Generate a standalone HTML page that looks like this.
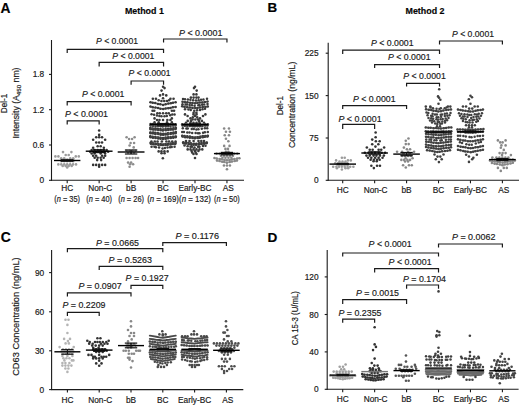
<!DOCTYPE html>
<html><head><meta charset="utf-8"><style>
html,body{margin:0;padding:0;background:#fff;}
svg{display:block;font-family:"Liberation Sans", sans-serif;}
text{stroke:#1a1a1a;stroke-width:0.18px;}
</style></head><body>
<svg width="520" height="405" viewBox="0 0 520 405">
<rect width="520" height="405" fill="#fff"/>
<text x="0.6" y="12.6" font-size="13.8" text-anchor="start" font-weight="bold" fill="#000">A</text>
<text x="267.4" y="12.3" font-size="13.4" text-anchor="start" font-weight="bold" fill="#000">B</text>
<text x="0.7" y="241.5" font-size="13.9" text-anchor="start" font-weight="bold" fill="#000">C</text>
<text x="267.4" y="241.5" font-size="13.6" text-anchor="start" font-weight="bold" fill="#000">D</text>
<text x="144.4" y="14.2" font-size="9.6" text-anchor="middle" font-weight="bold" fill="#000" textLength="39" lengthAdjust="spacingAndGlyphs">Method 1</text>
<text x="425.0" y="14.2" font-size="9.6" text-anchor="middle" font-weight="bold" fill="#000" textLength="39" lengthAdjust="spacingAndGlyphs">Method 2</text>
<line x1="51.5" y1="40.0" x2="51.5" y2="180.8" stroke="#1a1a1a" stroke-width="1.1"/>
<line x1="51.0" y1="180.3" x2="244.0" y2="180.3" stroke="#1a1a1a" stroke-width="1.1"/>
<line x1="49.0" y1="180.3" x2="51.5" y2="180.3" stroke="#1a1a1a" stroke-width="1.1"/>
<text x="44.2" y="183.3" font-size="8.3" text-anchor="end" font-weight="normal" fill="#1a1a1a">0</text>
<line x1="49.0" y1="145.0" x2="51.5" y2="145.0" stroke="#1a1a1a" stroke-width="1.1"/>
<text x="44.2" y="148.0" font-size="8.3" text-anchor="end" font-weight="normal" fill="#1a1a1a">0.6</text>
<line x1="49.0" y1="109.7" x2="51.5" y2="109.7" stroke="#1a1a1a" stroke-width="1.1"/>
<text x="44.2" y="112.7" font-size="8.3" text-anchor="end" font-weight="normal" fill="#1a1a1a">1.2</text>
<line x1="49.0" y1="74.4" x2="51.5" y2="74.4" stroke="#1a1a1a" stroke-width="1.1"/>
<text x="44.2" y="77.4" font-size="8.3" text-anchor="end" font-weight="normal" fill="#1a1a1a">1.8</text>
<line x1="67.2" y1="180.3" x2="67.2" y2="183.3" stroke="#1a1a1a" stroke-width="1.1"/>
<line x1="99.15" y1="180.3" x2="99.15" y2="183.3" stroke="#1a1a1a" stroke-width="1.1"/>
<line x1="131.1" y1="180.3" x2="131.1" y2="183.3" stroke="#1a1a1a" stroke-width="1.1"/>
<line x1="163.05" y1="180.3" x2="163.05" y2="183.3" stroke="#1a1a1a" stroke-width="1.1"/>
<line x1="195.0" y1="180.3" x2="195.0" y2="183.3" stroke="#1a1a1a" stroke-width="1.1"/>
<line x1="226.95" y1="180.3" x2="226.95" y2="183.3" stroke="#1a1a1a" stroke-width="1.1"/>
<line x1="328.2" y1="42.8" x2="328.2" y2="180.8" stroke="#1a1a1a" stroke-width="1.1"/>
<line x1="327.7" y1="180.3" x2="519.0" y2="180.3" stroke="#1a1a1a" stroke-width="1.1"/>
<line x1="325.7" y1="180.3" x2="328.2" y2="180.3" stroke="#1a1a1a" stroke-width="1.1"/>
<text x="318.6" y="183.3" font-size="8.3" text-anchor="end" font-weight="normal" fill="#1a1a1a">0</text>
<line x1="325.7" y1="138.0" x2="328.2" y2="138.0" stroke="#1a1a1a" stroke-width="1.1"/>
<text x="318.6" y="141.0" font-size="8.3" text-anchor="end" font-weight="normal" fill="#1a1a1a">75</text>
<line x1="325.7" y1="95.6" x2="328.2" y2="95.6" stroke="#1a1a1a" stroke-width="1.1"/>
<text x="318.6" y="98.6" font-size="8.3" text-anchor="end" font-weight="normal" fill="#1a1a1a">150</text>
<line x1="325.7" y1="53.2" x2="328.2" y2="53.2" stroke="#1a1a1a" stroke-width="1.1"/>
<text x="318.6" y="56.2" font-size="8.3" text-anchor="end" font-weight="normal" fill="#1a1a1a">225</text>
<line x1="342.7" y1="180.3" x2="342.7" y2="183.3" stroke="#1a1a1a" stroke-width="1.1"/>
<line x1="374.64" y1="180.3" x2="374.64" y2="183.3" stroke="#1a1a1a" stroke-width="1.1"/>
<line x1="406.58" y1="180.3" x2="406.58" y2="183.3" stroke="#1a1a1a" stroke-width="1.1"/>
<line x1="438.52" y1="180.3" x2="438.52" y2="183.3" stroke="#1a1a1a" stroke-width="1.1"/>
<line x1="470.46" y1="180.3" x2="470.46" y2="183.3" stroke="#1a1a1a" stroke-width="1.1"/>
<line x1="502.4" y1="180.3" x2="502.4" y2="183.3" stroke="#1a1a1a" stroke-width="1.1"/>
<line x1="51.6" y1="250.0" x2="51.6" y2="390.1" stroke="#1a1a1a" stroke-width="1.1"/>
<line x1="51.1" y1="389.6" x2="243.3" y2="389.6" stroke="#1a1a1a" stroke-width="1.1"/>
<line x1="49.1" y1="389.6" x2="51.6" y2="389.6" stroke="#1a1a1a" stroke-width="1.1"/>
<text x="44.2" y="392.6" font-size="8.3" text-anchor="end" font-weight="normal" fill="#1a1a1a">0</text>
<line x1="49.1" y1="350.8" x2="51.6" y2="350.8" stroke="#1a1a1a" stroke-width="1.1"/>
<text x="44.2" y="353.8" font-size="8.3" text-anchor="end" font-weight="normal" fill="#1a1a1a">30</text>
<line x1="49.1" y1="311.8" x2="51.6" y2="311.8" stroke="#1a1a1a" stroke-width="1.1"/>
<text x="44.2" y="314.8" font-size="8.3" text-anchor="end" font-weight="normal" fill="#1a1a1a">60</text>
<line x1="49.1" y1="272.6" x2="51.6" y2="272.6" stroke="#1a1a1a" stroke-width="1.1"/>
<text x="44.2" y="275.6" font-size="8.3" text-anchor="end" font-weight="normal" fill="#1a1a1a">90</text>
<line x1="67.4" y1="389.6" x2="67.4" y2="392.6" stroke="#1a1a1a" stroke-width="1.1"/>
<line x1="99.2" y1="389.6" x2="99.2" y2="392.6" stroke="#1a1a1a" stroke-width="1.1"/>
<line x1="131.0" y1="389.6" x2="131.0" y2="392.6" stroke="#1a1a1a" stroke-width="1.1"/>
<line x1="162.8" y1="389.6" x2="162.8" y2="392.6" stroke="#1a1a1a" stroke-width="1.1"/>
<line x1="194.60000000000002" y1="389.6" x2="194.60000000000002" y2="392.6" stroke="#1a1a1a" stroke-width="1.1"/>
<line x1="226.4" y1="389.6" x2="226.4" y2="392.6" stroke="#1a1a1a" stroke-width="1.1"/>
<line x1="327.2" y1="250.0" x2="327.2" y2="389.8" stroke="#1a1a1a" stroke-width="1.1"/>
<line x1="326.7" y1="389.3" x2="518.6" y2="389.3" stroke="#1a1a1a" stroke-width="1.1"/>
<line x1="324.7" y1="389.3" x2="327.2" y2="389.3" stroke="#1a1a1a" stroke-width="1.1"/>
<text x="318.6" y="392.3" font-size="8.3" text-anchor="end" font-weight="normal" fill="#1a1a1a">0</text>
<line x1="324.7" y1="351.9" x2="327.2" y2="351.9" stroke="#1a1a1a" stroke-width="1.1"/>
<text x="318.6" y="354.9" font-size="8.3" text-anchor="end" font-weight="normal" fill="#1a1a1a">40</text>
<line x1="324.7" y1="314.5" x2="327.2" y2="314.5" stroke="#1a1a1a" stroke-width="1.1"/>
<text x="318.6" y="317.5" font-size="8.3" text-anchor="end" font-weight="normal" fill="#1a1a1a">80</text>
<line x1="324.7" y1="276.9" x2="327.2" y2="276.9" stroke="#1a1a1a" stroke-width="1.1"/>
<text x="318.6" y="279.9" font-size="8.3" text-anchor="end" font-weight="normal" fill="#1a1a1a">120</text>
<line x1="342.7" y1="389.3" x2="342.7" y2="392.3" stroke="#1a1a1a" stroke-width="1.1"/>
<line x1="374.64" y1="389.3" x2="374.64" y2="392.3" stroke="#1a1a1a" stroke-width="1.1"/>
<line x1="406.58" y1="389.3" x2="406.58" y2="392.3" stroke="#1a1a1a" stroke-width="1.1"/>
<line x1="438.52" y1="389.3" x2="438.52" y2="392.3" stroke="#1a1a1a" stroke-width="1.1"/>
<line x1="470.46" y1="389.3" x2="470.46" y2="392.3" stroke="#1a1a1a" stroke-width="1.1"/>
<line x1="502.4" y1="389.3" x2="502.4" y2="392.3" stroke="#1a1a1a" stroke-width="1.1"/>
<text x="67.2" y="190.9" font-size="8.3" text-anchor="middle" font-weight="normal" fill="#1a1a1a">HC</text>
<text x="342.7" y="193.2" font-size="8.3" text-anchor="middle" font-weight="normal" fill="#1a1a1a">HC</text>
<text x="67.4" y="402.8" font-size="8.3" text-anchor="middle" font-weight="normal" fill="#1a1a1a">HC</text>
<text x="342.7" y="402.3" font-size="8.3" text-anchor="middle" font-weight="normal" fill="#1a1a1a">HC</text>
<text x="100.15" y="190.9" font-size="8.3" text-anchor="middle" font-weight="normal" fill="#1a1a1a">Non-C</text>
<text x="375.64" y="193.2" font-size="8.3" text-anchor="middle" font-weight="normal" fill="#1a1a1a">Non-C</text>
<text x="100.2" y="402.8" font-size="8.3" text-anchor="middle" font-weight="normal" fill="#1a1a1a">Non-C</text>
<text x="375.64" y="402.3" font-size="8.3" text-anchor="middle" font-weight="normal" fill="#1a1a1a">Non-C</text>
<text x="131.1" y="190.9" font-size="8.3" text-anchor="middle" font-weight="normal" fill="#1a1a1a">bB</text>
<text x="406.58" y="193.2" font-size="8.3" text-anchor="middle" font-weight="normal" fill="#1a1a1a">bB</text>
<text x="131.0" y="402.8" font-size="8.3" text-anchor="middle" font-weight="normal" fill="#1a1a1a">bB</text>
<text x="406.58" y="402.3" font-size="8.3" text-anchor="middle" font-weight="normal" fill="#1a1a1a">bB</text>
<text x="163.05" y="190.9" font-size="8.3" text-anchor="middle" font-weight="normal" fill="#1a1a1a">BC</text>
<text x="438.52" y="193.2" font-size="8.3" text-anchor="middle" font-weight="normal" fill="#1a1a1a">BC</text>
<text x="162.8" y="402.8" font-size="8.3" text-anchor="middle" font-weight="normal" fill="#1a1a1a">BC</text>
<text x="438.52" y="402.3" font-size="8.3" text-anchor="middle" font-weight="normal" fill="#1a1a1a">BC</text>
<text x="195.0" y="190.9" font-size="8.3" text-anchor="middle" font-weight="normal" fill="#1a1a1a">Early-BC</text>
<text x="470.46" y="193.2" font-size="8.3" text-anchor="middle" font-weight="normal" fill="#1a1a1a">Early-BC</text>
<text x="194.60000000000002" y="402.8" font-size="8.3" text-anchor="middle" font-weight="normal" fill="#1a1a1a">Early-BC</text>
<text x="470.46" y="402.3" font-size="8.3" text-anchor="middle" font-weight="normal" fill="#1a1a1a">Early-BC</text>
<text x="228.35" y="190.9" font-size="8.3" text-anchor="middle" font-weight="normal" fill="#1a1a1a">AS</text>
<text x="503.79999999999995" y="193.2" font-size="8.3" text-anchor="middle" font-weight="normal" fill="#1a1a1a">AS</text>
<text x="227.8" y="402.8" font-size="8.3" text-anchor="middle" font-weight="normal" fill="#1a1a1a">AS</text>
<text x="503.79999999999995" y="402.3" font-size="8.3" text-anchor="middle" font-weight="normal" fill="#1a1a1a">AS</text>
<text x="67.2" y="202.1" font-size="8.4" text-anchor="middle" fill="#1a1a1a" textLength="25.8" lengthAdjust="spacingAndGlyphs">(<tspan font-style="italic">n</tspan> = 35)</text>
<text x="99.15" y="202.1" font-size="8.4" text-anchor="middle" fill="#1a1a1a" textLength="25.8" lengthAdjust="spacingAndGlyphs">(<tspan font-style="italic">n</tspan> = 40)</text>
<text x="131.1" y="202.1" font-size="8.4" text-anchor="middle" fill="#1a1a1a" textLength="25.8" lengthAdjust="spacingAndGlyphs">(<tspan font-style="italic">n</tspan> = 26)</text>
<text x="163.05" y="202.1" font-size="8.4" text-anchor="middle" fill="#1a1a1a" textLength="31.8" lengthAdjust="spacingAndGlyphs">(<tspan font-style="italic">n</tspan> = 169)</text>
<text x="195.0" y="202.1" font-size="8.4" text-anchor="middle" fill="#1a1a1a" textLength="31.8" lengthAdjust="spacingAndGlyphs">(<tspan font-style="italic">n</tspan> = 132)</text>
<text x="226.95" y="202.1" font-size="8.4" text-anchor="middle" fill="#1a1a1a" textLength="25.8" lengthAdjust="spacingAndGlyphs">(<tspan font-style="italic">n</tspan> = 50)</text>
<text x="7.4" y="103.4" font-size="8.8" text-anchor="middle" font-weight="normal" fill="#1a1a1a" textLength="19.5" lengthAdjust="spacingAndGlyphs" transform="rotate(-90 7.4 103.4)">Del-1</text>
<text x="19.0" y="103.0" font-size="8.7" text-anchor="middle" font-weight="normal" fill="#1a1a1a" textLength="71" lengthAdjust="spacingAndGlyphs" transform="rotate(-90 19.0 103.0)">Intensity (A<tspan font-size="6.2" dy="1.6">450</tspan><tspan dy="-1.6"> nm)</tspan></text>
<text x="283.3" y="105.6" font-size="8.6" text-anchor="middle" font-weight="normal" fill="#1a1a1a" textLength="19.4" lengthAdjust="spacingAndGlyphs" transform="rotate(-90 283.3 105.6)">Del-1</text>
<text x="295.2" y="104.9" font-size="8.6" text-anchor="middle" font-weight="normal" fill="#1a1a1a" textLength="86.4" lengthAdjust="spacingAndGlyphs" transform="rotate(-90 295.2 104.9)">Concentration (ng/mL)</text>
<text x="18.8" y="316.6" font-size="8.6" text-anchor="middle" font-weight="normal" fill="#1a1a1a" textLength="118.5" lengthAdjust="spacingAndGlyphs" transform="rotate(-90 18.8 316.6)">CD63 Concentration (ng/mL)</text>
<text x="297.6" y="318.2" font-size="8.6" text-anchor="middle" font-weight="normal" fill="#1a1a1a" textLength="54.3" lengthAdjust="spacingAndGlyphs" transform="rotate(-90 297.6 318.2)">CA 15-3 (U/mL)</text>
<path d="M163.55 42.6 V39.0 H226.95 V42.6" stroke="#1a1a1a" stroke-width="1.2" fill="none"/>
<text x="200.7" y="35.5" font-size="9.4" text-anchor="middle" fill="#1a1a1a" textLength="43.4" lengthAdjust="spacingAndGlyphs"><tspan font-style="italic">P</tspan> &lt; 0.0001</text>
<path d="M67.20 53.0 V49.3 H163.55 V53.0" stroke="#1a1a1a" stroke-width="1.2" fill="none"/>
<text x="117.0" y="43.7" font-size="9.4" text-anchor="middle" fill="#1a1a1a" textLength="42.0" lengthAdjust="spacingAndGlyphs"><tspan font-style="italic">P</tspan> &lt; 0.0001</text>
<path d="M99.15 66.5 V62.4 H163.55 V66.5" stroke="#1a1a1a" stroke-width="1.2" fill="none"/>
<text x="133.3" y="58.7" font-size="9.4" text-anchor="middle" fill="#1a1a1a" textLength="42.0" lengthAdjust="spacingAndGlyphs"><tspan font-style="italic">P</tspan> &lt; 0.0001</text>
<path d="M131.10 84.8 V81.0 H163.55 V84.8" stroke="#1a1a1a" stroke-width="1.2" fill="none"/>
<text x="149.6" y="76.3" font-size="9.4" text-anchor="middle" fill="#1a1a1a" textLength="42.0" lengthAdjust="spacingAndGlyphs"><tspan font-style="italic">P</tspan> &lt; 0.0001</text>
<path d="M67.20 105.6 V101.6 H131.10 V105.6" stroke="#1a1a1a" stroke-width="1.2" fill="none"/>
<text x="103.2" y="97.3" font-size="9.4" text-anchor="middle" fill="#1a1a1a" textLength="42.4" lengthAdjust="spacingAndGlyphs"><tspan font-style="italic">P</tspan> &lt; 0.0001</text>
<path d="M67.20 124.4 V120.8 H99.15 V124.4" stroke="#1a1a1a" stroke-width="1.2" fill="none"/>
<text x="86.5" y="116.5" font-size="9.4" text-anchor="middle" fill="#1a1a1a" textLength="43.0" lengthAdjust="spacingAndGlyphs"><tspan font-style="italic">P</tspan> &lt; 0.0001</text>
<path d="M439.52 44.6 V41.0 H502.40 V44.6" stroke="#1a1a1a" stroke-width="1.2" fill="none"/>
<text x="473.0" y="36.9" font-size="9.4" text-anchor="middle" fill="#1a1a1a" textLength="42.0" lengthAdjust="spacingAndGlyphs"><tspan font-style="italic">P</tspan> &lt; 0.0001</text>
<path d="M342.70 54.0 V50.2 H439.52 V54.0" stroke="#1a1a1a" stroke-width="1.2" fill="none"/>
<text x="392.3" y="45.5" font-size="9.4" text-anchor="middle" fill="#1a1a1a" textLength="42.6" lengthAdjust="spacingAndGlyphs"><tspan font-style="italic">P</tspan> &lt; 0.0001</text>
<path d="M374.64 68.0 V64.6 H439.52 V68.0" stroke="#1a1a1a" stroke-width="1.2" fill="none"/>
<text x="409.3" y="60.1" font-size="9.4" text-anchor="middle" fill="#1a1a1a" textLength="42.6" lengthAdjust="spacingAndGlyphs"><tspan font-style="italic">P</tspan> &lt; 0.0001</text>
<path d="M406.58 86.4 V83.4 H439.52 V86.4" stroke="#1a1a1a" stroke-width="1.2" fill="none"/>
<text x="424.5" y="78.5" font-size="9.4" text-anchor="middle" fill="#1a1a1a" textLength="42.6" lengthAdjust="spacingAndGlyphs"><tspan font-style="italic">P</tspan> &lt; 0.0001</text>
<path d="M342.70 109.0 V105.6 H406.58 V109.0" stroke="#1a1a1a" stroke-width="1.2" fill="none"/>
<text x="374.3" y="102.1" font-size="9.4" text-anchor="middle" fill="#1a1a1a" textLength="42.6" lengthAdjust="spacingAndGlyphs"><tspan font-style="italic">P</tspan> &lt; 0.0001</text>
<path d="M342.70 129.0 V124.4 H374.64 V129.0" stroke="#1a1a1a" stroke-width="1.2" fill="none"/>
<text x="360.0" y="121.5" font-size="9.4" text-anchor="middle" fill="#1a1a1a" textLength="43.2" lengthAdjust="spacingAndGlyphs"><tspan font-style="italic">P</tspan> &lt; 0.0001</text>
<path d="M162.80 246.0 V242.6 H226.40 V246.0" stroke="#1a1a1a" stroke-width="1.2" fill="none"/>
<text x="197.2" y="238.5" font-size="9.4" text-anchor="middle" fill="#1a1a1a" textLength="43.6" lengthAdjust="spacingAndGlyphs"><tspan font-style="italic">P</tspan> = 0.1176</text>
<path d="M67.40 252.2 V248.6 H162.80 V252.2" stroke="#1a1a1a" stroke-width="1.2" fill="none"/>
<text x="117.5" y="245.9" font-size="9.4" text-anchor="middle" fill="#1a1a1a" textLength="43.0" lengthAdjust="spacingAndGlyphs"><tspan font-style="italic">P</tspan> = 0.0665</text>
<path d="M99.20 270.0 V266.3 H162.80 V270.0" stroke="#1a1a1a" stroke-width="1.2" fill="none"/>
<text x="130.3" y="262.5" font-size="9.4" text-anchor="middle" fill="#1a1a1a" textLength="43.4" lengthAdjust="spacingAndGlyphs"><tspan font-style="italic">P</tspan> = 0.5263</text>
<path d="M131.00 289.0 V285.4 H162.80 V289.0" stroke="#1a1a1a" stroke-width="1.2" fill="none"/>
<text x="147.1" y="280.5" font-size="9.4" text-anchor="middle" fill="#1a1a1a" textLength="43.0" lengthAdjust="spacingAndGlyphs"><tspan font-style="italic">P</tspan> = 0.1927</text>
<path d="M67.40 296.5 V292.9 H131.00 V296.5" stroke="#1a1a1a" stroke-width="1.2" fill="none"/>
<text x="100.0" y="288.5" font-size="9.4" text-anchor="middle" fill="#1a1a1a" textLength="43.2" lengthAdjust="spacingAndGlyphs"><tspan font-style="italic">P</tspan> = 0.0907</text>
<path d="M67.40 316.0 V312.4 H99.20 V316.0" stroke="#1a1a1a" stroke-width="1.2" fill="none"/>
<text x="84.0" y="307.9" font-size="9.4" text-anchor="middle" fill="#1a1a1a" textLength="43.0" lengthAdjust="spacingAndGlyphs"><tspan font-style="italic">P</tspan> = 0.2209</text>
<path d="M438.52 247.6 V244.0 H502.40 V247.6" stroke="#1a1a1a" stroke-width="1.2" fill="none"/>
<text x="473.7" y="239.5" font-size="9.4" text-anchor="middle" fill="#1a1a1a" textLength="43.4" lengthAdjust="spacingAndGlyphs"><tspan font-style="italic">P</tspan> = 0.0062</text>
<path d="M342.70 256.6 V253.0 H438.52 V256.6" stroke="#1a1a1a" stroke-width="1.2" fill="none"/>
<text x="390.1" y="247.1" font-size="9.4" text-anchor="middle" fill="#1a1a1a" textLength="43.0" lengthAdjust="spacingAndGlyphs"><tspan font-style="italic">P</tspan> &lt; 0.0001</text>
<path d="M374.64 272.4 V268.6 H438.52 V272.4" stroke="#1a1a1a" stroke-width="1.2" fill="none"/>
<text x="410.1" y="265.1" font-size="9.4" text-anchor="middle" fill="#1a1a1a" textLength="43.0" lengthAdjust="spacingAndGlyphs"><tspan font-style="italic">P</tspan> &lt; 0.0001</text>
<path d="M406.58 288.8 V285.0 H438.52 V288.8" stroke="#1a1a1a" stroke-width="1.2" fill="none"/>
<text x="424.5" y="281.5" font-size="9.4" text-anchor="middle" fill="#1a1a1a" textLength="43.0" lengthAdjust="spacingAndGlyphs"><tspan font-style="italic">P</tspan> = 0.1704</text>
<path d="M342.70 303.9 V299.7 H406.58 V303.9" stroke="#1a1a1a" stroke-width="1.2" fill="none"/>
<text x="377.5" y="295.8" font-size="9.4" text-anchor="middle" fill="#1a1a1a" textLength="43.0" lengthAdjust="spacingAndGlyphs"><tspan font-style="italic">P</tspan> = 0.0015</text>
<path d="M342.70 322.8 V319.1 H374.64 V322.8" stroke="#1a1a1a" stroke-width="1.2" fill="none"/>
<text x="360.0" y="315.7" font-size="9.4" text-anchor="middle" fill="#1a1a1a" textLength="43.0" lengthAdjust="spacingAndGlyphs"><tspan font-style="italic">P</tspan> = 0.2355</text>
<defs><filter id="sf" x="-5%" y="-5%" width="110%" height="110%"><feGaussianBlur stdDeviation="0.4"/></filter></defs>
<g filter="url(#sf)">
<circle cx="63.00" cy="152.10" r="1.3" fill="#9c9c9c"/>
<circle cx="71.40" cy="152.10" r="1.3" fill="#9c9c9c"/>
<circle cx="65.70" cy="155.00" r="1.3" fill="#9c9c9c"/>
<circle cx="68.70" cy="155.00" r="1.3" fill="#9c9c9c"/>
<circle cx="55.40" cy="156.40" r="1.3" fill="#9c9c9c"/>
<circle cx="58.40" cy="156.40" r="1.3" fill="#9c9c9c"/>
<circle cx="75.80" cy="156.40" r="1.3" fill="#9c9c9c"/>
<circle cx="78.80" cy="156.40" r="1.3" fill="#9c9c9c"/>
<circle cx="61.20" cy="158.20" r="1.3" fill="#9c9c9c"/>
<circle cx="64.20" cy="158.20" r="1.3" fill="#9c9c9c"/>
<circle cx="70.20" cy="158.20" r="1.3" fill="#9c9c9c"/>
<circle cx="73.20" cy="158.20" r="1.3" fill="#9c9c9c"/>
<circle cx="61.30" cy="159.60" r="1.3" fill="#9c9c9c"/>
<circle cx="64.25" cy="159.60" r="1.3" fill="#9c9c9c"/>
<circle cx="67.20" cy="159.60" r="1.3" fill="#9c9c9c"/>
<circle cx="70.15" cy="159.60" r="1.3" fill="#9c9c9c"/>
<circle cx="73.10" cy="159.60" r="1.3" fill="#9c9c9c"/>
<circle cx="61.30" cy="161.20" r="1.3" fill="#9c9c9c"/>
<circle cx="64.25" cy="161.20" r="1.3" fill="#9c9c9c"/>
<circle cx="67.20" cy="161.20" r="1.3" fill="#9c9c9c"/>
<circle cx="70.15" cy="161.20" r="1.3" fill="#9c9c9c"/>
<circle cx="73.10" cy="161.20" r="1.3" fill="#9c9c9c"/>
<circle cx="58.35" cy="164.40" r="1.3" fill="#9c9c9c"/>
<circle cx="61.30" cy="164.40" r="1.3" fill="#9c9c9c"/>
<circle cx="64.25" cy="164.40" r="1.3" fill="#9c9c9c"/>
<circle cx="67.20" cy="164.40" r="1.3" fill="#9c9c9c"/>
<circle cx="70.15" cy="164.40" r="1.3" fill="#9c9c9c"/>
<circle cx="73.10" cy="164.40" r="1.3" fill="#9c9c9c"/>
<circle cx="76.05" cy="164.40" r="1.3" fill="#9c9c9c"/>
<circle cx="62.70" cy="165.90" r="1.3" fill="#9c9c9c"/>
<circle cx="65.70" cy="165.90" r="1.3" fill="#9c9c9c"/>
<circle cx="68.70" cy="165.90" r="1.3" fill="#9c9c9c"/>
<circle cx="71.70" cy="165.90" r="1.3" fill="#9c9c9c"/>
<circle cx="67.20" cy="167.40" r="1.3" fill="#9c9c9c"/>
<circle cx="99.15" cy="130.50" r="1.3" fill="#333333"/>
<circle cx="99.15" cy="134.90" r="1.3" fill="#333333"/>
<circle cx="96.25" cy="137.20" r="1.3" fill="#333333"/>
<circle cx="99.15" cy="137.20" r="1.3" fill="#333333"/>
<circle cx="102.05" cy="137.20" r="1.3" fill="#333333"/>
<circle cx="93.15" cy="139.80" r="1.3" fill="#333333"/>
<circle cx="105.15" cy="139.80" r="1.3" fill="#333333"/>
<circle cx="96.25" cy="142.50" r="1.3" fill="#333333"/>
<circle cx="99.15" cy="142.50" r="1.3" fill="#333333"/>
<circle cx="102.05" cy="142.50" r="1.3" fill="#333333"/>
<circle cx="97.65" cy="146.20" r="1.3" fill="#333333"/>
<circle cx="100.65" cy="146.20" r="1.3" fill="#333333"/>
<circle cx="93.15" cy="147.80" r="1.3" fill="#333333"/>
<circle cx="103.85" cy="147.80" r="1.3" fill="#333333"/>
<circle cx="91.65" cy="150.00" r="1.3" fill="#333333"/>
<circle cx="94.65" cy="150.00" r="1.3" fill="#333333"/>
<circle cx="97.65" cy="150.00" r="1.3" fill="#333333"/>
<circle cx="100.65" cy="150.00" r="1.3" fill="#333333"/>
<circle cx="103.65" cy="150.00" r="1.3" fill="#333333"/>
<circle cx="106.65" cy="150.00" r="1.3" fill="#333333"/>
<circle cx="90.15" cy="151.80" r="1.3" fill="#333333"/>
<circle cx="93.15" cy="151.80" r="1.3" fill="#333333"/>
<circle cx="96.15" cy="151.80" r="1.3" fill="#333333"/>
<circle cx="99.15" cy="151.80" r="1.3" fill="#333333"/>
<circle cx="102.15" cy="151.80" r="1.3" fill="#333333"/>
<circle cx="105.15" cy="151.80" r="1.3" fill="#333333"/>
<circle cx="108.15" cy="151.80" r="1.3" fill="#333333"/>
<circle cx="91.65" cy="153.50" r="1.3" fill="#333333"/>
<circle cx="94.65" cy="153.50" r="1.3" fill="#333333"/>
<circle cx="100.65" cy="153.50" r="1.3" fill="#333333"/>
<circle cx="105.15" cy="153.50" r="1.3" fill="#333333"/>
<circle cx="93.15" cy="155.80" r="1.3" fill="#333333"/>
<circle cx="96.15" cy="155.80" r="1.3" fill="#333333"/>
<circle cx="102.15" cy="155.80" r="1.3" fill="#333333"/>
<circle cx="105.15" cy="155.80" r="1.3" fill="#333333"/>
<circle cx="94.65" cy="157.80" r="1.3" fill="#333333"/>
<circle cx="97.65" cy="157.80" r="1.3" fill="#333333"/>
<circle cx="100.65" cy="157.80" r="1.3" fill="#333333"/>
<circle cx="103.65" cy="157.80" r="1.3" fill="#333333"/>
<circle cx="97.15" cy="160.10" r="1.3" fill="#333333"/>
<circle cx="101.15" cy="160.10" r="1.3" fill="#333333"/>
<circle cx="93.15" cy="164.90" r="1.3" fill="#333333"/>
<circle cx="96.15" cy="164.90" r="1.3" fill="#333333"/>
<circle cx="99.15" cy="164.90" r="1.3" fill="#333333"/>
<circle cx="102.15" cy="164.90" r="1.3" fill="#333333"/>
<circle cx="105.15" cy="164.90" r="1.3" fill="#333333"/>
<circle cx="99.15" cy="166.70" r="1.3" fill="#333333"/>
<circle cx="126.60" cy="137.30" r="1.3" fill="#8c8c8c"/>
<circle cx="134.60" cy="137.30" r="1.3" fill="#8c8c8c"/>
<circle cx="129.10" cy="139.00" r="1.3" fill="#8c8c8c"/>
<circle cx="132.10" cy="139.00" r="1.3" fill="#8c8c8c"/>
<circle cx="130.60" cy="143.00" r="1.3" fill="#8c8c8c"/>
<circle cx="134.10" cy="143.00" r="1.3" fill="#8c8c8c"/>
<circle cx="129.60" cy="145.50" r="1.3" fill="#8c8c8c"/>
<circle cx="133.70" cy="147.40" r="1.3" fill="#8c8c8c"/>
<circle cx="126.60" cy="150.80" r="1.3" fill="#8c8c8c"/>
<circle cx="129.60" cy="150.80" r="1.3" fill="#8c8c8c"/>
<circle cx="132.60" cy="150.80" r="1.3" fill="#8c8c8c"/>
<circle cx="135.60" cy="150.80" r="1.3" fill="#8c8c8c"/>
<circle cx="128.10" cy="152.80" r="1.3" fill="#8c8c8c"/>
<circle cx="131.10" cy="152.80" r="1.3" fill="#8c8c8c"/>
<circle cx="134.10" cy="152.80" r="1.3" fill="#8c8c8c"/>
<circle cx="126.60" cy="158.00" r="1.3" fill="#8c8c8c"/>
<circle cx="129.60" cy="158.00" r="1.3" fill="#8c8c8c"/>
<circle cx="132.60" cy="158.00" r="1.3" fill="#8c8c8c"/>
<circle cx="135.60" cy="158.00" r="1.3" fill="#8c8c8c"/>
<circle cx="138.10" cy="158.00" r="1.3" fill="#8c8c8c"/>
<circle cx="128.10" cy="162.60" r="1.3" fill="#8c8c8c"/>
<circle cx="131.10" cy="162.60" r="1.3" fill="#8c8c8c"/>
<circle cx="130.10" cy="164.20" r="1.3" fill="#8c8c8c"/>
<circle cx="133.10" cy="164.20" r="1.3" fill="#8c8c8c"/>
<circle cx="129.60" cy="166.80" r="1.3" fill="#8c8c8c"/>
<circle cx="163.05" cy="86.80" r="1.3" fill="#3a3a3a"/>
<circle cx="164.55" cy="88.10" r="1.3" fill="#3a3a3a"/>
<circle cx="161.55" cy="90.60" r="1.3" fill="#3a3a3a"/>
<circle cx="163.05" cy="94.40" r="1.3" fill="#3a3a3a"/>
<circle cx="160.05" cy="95.40" r="1.3" fill="#3a3a3a"/>
<circle cx="166.25" cy="95.40" r="1.3" fill="#3a3a3a"/>
<circle cx="163.05" cy="98.20" r="1.3" fill="#3a3a3a"/>
<circle cx="152.85" cy="98.70" r="1.3" fill="#3a3a3a"/>
<circle cx="155.95" cy="98.70" r="1.3" fill="#3a3a3a"/>
<circle cx="170.45" cy="98.70" r="1.3" fill="#3a3a3a"/>
<circle cx="173.55" cy="98.70" r="1.3" fill="#3a3a3a"/>
<circle cx="158.65" cy="100.20" r="1.3" fill="#3a3a3a"/>
<circle cx="169.05" cy="100.20" r="1.3" fill="#3a3a3a"/>
<circle cx="161.45" cy="101.00" r="1.3" fill="#3a3a3a"/>
<circle cx="164.25" cy="101.00" r="1.3" fill="#3a3a3a"/>
<circle cx="166.95" cy="101.00" r="1.3" fill="#3a3a3a"/>
<polyline points="150.45,102.30 153.60,102.90 156.75,103.50 159.90,104.30 163.05,104.77 166.20,104.26 169.35,103.56 172.50,102.82 175.65,102.30" fill="none" stroke="#757575" stroke-width="1.6" stroke-linecap="round" stroke-linejoin="round"/>
<circle cx="150.45" cy="102.30" r="1.25" fill="#3a3a3a"/>
<circle cx="152.69" cy="102.74" r="1.25" fill="#3a3a3a"/>
<circle cx="155.23" cy="103.12" r="1.25" fill="#3a3a3a"/>
<circle cx="157.96" cy="103.98" r="1.25" fill="#3a3a3a"/>
<circle cx="160.30" cy="104.22" r="1.25" fill="#3a3a3a"/>
<circle cx="163.13" cy="105.06" r="1.25" fill="#3a3a3a"/>
<circle cx="165.62" cy="104.33" r="1.25" fill="#3a3a3a"/>
<circle cx="168.38" cy="103.62" r="1.25" fill="#3a3a3a"/>
<circle cx="170.83" cy="103.21" r="1.25" fill="#3a3a3a"/>
<circle cx="172.92" cy="102.71" r="1.25" fill="#3a3a3a"/>
<circle cx="175.65" cy="102.22" r="1.25" fill="#3a3a3a"/>
<polyline points="150.45,106.80 153.60,107.44 156.75,107.80 159.90,108.47 163.05,109.04 166.20,108.41 169.35,107.91 172.50,107.22 175.65,106.80" fill="none" stroke="#757575" stroke-width="1.6" stroke-linecap="round" stroke-linejoin="round"/>
<circle cx="150.45" cy="106.62" r="1.25" fill="#3a3a3a"/>
<circle cx="152.79" cy="107.28" r="1.25" fill="#3a3a3a"/>
<circle cx="155.45" cy="107.60" r="1.25" fill="#3a3a3a"/>
<circle cx="158.06" cy="108.11" r="1.25" fill="#3a3a3a"/>
<circle cx="160.41" cy="108.66" r="1.25" fill="#3a3a3a"/>
<circle cx="163.17" cy="108.88" r="1.25" fill="#3a3a3a"/>
<circle cx="165.61" cy="108.56" r="1.25" fill="#3a3a3a"/>
<circle cx="168.32" cy="108.17" r="1.25" fill="#3a3a3a"/>
<circle cx="170.48" cy="107.89" r="1.25" fill="#3a3a3a"/>
<circle cx="172.90" cy="107.25" r="1.25" fill="#3a3a3a"/>
<circle cx="175.65" cy="106.90" r="1.25" fill="#3a3a3a"/>
<circle cx="152.55" cy="110.80" r="1.3" fill="#3a3a3a"/>
<circle cx="154.25" cy="110.80" r="1.3" fill="#3a3a3a"/>
<circle cx="171.85" cy="110.80" r="1.3" fill="#3a3a3a"/>
<circle cx="174.05" cy="110.80" r="1.3" fill="#3a3a3a"/>
<circle cx="157.35" cy="113.30" r="1.3" fill="#3a3a3a"/>
<circle cx="159.75" cy="113.30" r="1.3" fill="#3a3a3a"/>
<circle cx="163.05" cy="113.30" r="1.3" fill="#3a3a3a"/>
<circle cx="166.25" cy="113.30" r="1.3" fill="#3a3a3a"/>
<circle cx="168.75" cy="113.30" r="1.3" fill="#3a3a3a"/>
<circle cx="151.55" cy="114.23" r="1.25" fill="#3a3a3a"/>
<circle cx="154.09" cy="114.63" r="1.25" fill="#3a3a3a"/>
<circle cx="156.96" cy="115.52" r="1.25" fill="#3a3a3a"/>
<circle cx="159.35" cy="116.01" r="1.25" fill="#3a3a3a"/>
<circle cx="161.44" cy="116.30" r="1.25" fill="#3a3a3a"/>
<circle cx="164.50" cy="116.28" r="1.25" fill="#3a3a3a"/>
<circle cx="166.80" cy="115.98" r="1.25" fill="#3a3a3a"/>
<circle cx="170.23" cy="115.18" r="1.25" fill="#3a3a3a"/>
<circle cx="172.29" cy="114.59" r="1.25" fill="#3a3a3a"/>
<circle cx="174.55" cy="114.50" r="1.25" fill="#3a3a3a"/>
<circle cx="154.55" cy="118.40" r="1.3" fill="#3a3a3a"/>
<circle cx="171.85" cy="118.40" r="1.3" fill="#3a3a3a"/>
<circle cx="157.05" cy="120.00" r="1.3" fill="#3a3a3a"/>
<circle cx="159.45" cy="120.00" r="1.3" fill="#3a3a3a"/>
<circle cx="163.05" cy="120.00" r="1.3" fill="#3a3a3a"/>
<circle cx="167.35" cy="120.00" r="1.3" fill="#3a3a3a"/>
<circle cx="170.45" cy="120.00" r="1.3" fill="#3a3a3a"/>
<circle cx="154.55" cy="122.40" r="1.3" fill="#3a3a3a"/>
<circle cx="158.65" cy="122.40" r="1.3" fill="#3a3a3a"/>
<circle cx="167.05" cy="122.40" r="1.3" fill="#3a3a3a"/>
<circle cx="171.85" cy="122.40" r="1.3" fill="#3a3a3a"/>
<polyline points="150.55,124.00 153.68,124.19 156.80,124.45 159.93,124.55 163.05,124.54 166.18,124.42 169.30,124.35 172.43,124.01 175.55,124.00" fill="none" stroke="#757575" stroke-width="1.6" stroke-linecap="round" stroke-linejoin="round"/>
<circle cx="150.55" cy="123.98" r="1.25" fill="#3a3a3a"/>
<circle cx="152.85" cy="123.96" r="1.25" fill="#3a3a3a"/>
<circle cx="155.29" cy="124.33" r="1.25" fill="#3a3a3a"/>
<circle cx="157.83" cy="124.25" r="1.25" fill="#3a3a3a"/>
<circle cx="160.48" cy="124.63" r="1.25" fill="#3a3a3a"/>
<circle cx="162.80" cy="124.57" r="1.25" fill="#3a3a3a"/>
<circle cx="165.58" cy="124.63" r="1.25" fill="#3a3a3a"/>
<circle cx="168.24" cy="124.50" r="1.25" fill="#3a3a3a"/>
<circle cx="170.42" cy="124.21" r="1.25" fill="#3a3a3a"/>
<circle cx="172.97" cy="124.28" r="1.25" fill="#3a3a3a"/>
<circle cx="175.55" cy="124.18" r="1.25" fill="#3a3a3a"/>
<polyline points="150.55,125.60 153.68,125.70 156.80,125.90 159.93,126.12 163.05,126.32 166.18,126.20 169.30,126.03 172.43,125.73 175.55,125.60" fill="none" stroke="#757575" stroke-width="1.6" stroke-linecap="round" stroke-linejoin="round"/>
<circle cx="150.55" cy="125.40" r="1.25" fill="#3a3a3a"/>
<circle cx="153.00" cy="125.70" r="1.25" fill="#3a3a3a"/>
<circle cx="155.59" cy="126.10" r="1.25" fill="#3a3a3a"/>
<circle cx="158.16" cy="126.09" r="1.25" fill="#3a3a3a"/>
<circle cx="160.62" cy="126.31" r="1.25" fill="#3a3a3a"/>
<circle cx="162.78" cy="126.54" r="1.25" fill="#3a3a3a"/>
<circle cx="165.72" cy="126.38" r="1.25" fill="#3a3a3a"/>
<circle cx="168.23" cy="126.03" r="1.25" fill="#3a3a3a"/>
<circle cx="170.49" cy="125.77" r="1.25" fill="#3a3a3a"/>
<circle cx="173.13" cy="125.58" r="1.25" fill="#3a3a3a"/>
<circle cx="175.55" cy="125.43" r="1.25" fill="#3a3a3a"/>
<polyline points="150.25,128.10 153.45,128.34 156.65,128.65 159.85,129.03 163.05,129.27 166.25,128.93 169.45,128.65 172.65,128.31 175.85,128.10" fill="none" stroke="#757575" stroke-width="1.6" stroke-linecap="round" stroke-linejoin="round"/>
<circle cx="150.25" cy="128.05" r="1.25" fill="#3a3a3a"/>
<circle cx="152.53" cy="128.48" r="1.25" fill="#3a3a3a"/>
<circle cx="155.44" cy="128.49" r="1.25" fill="#3a3a3a"/>
<circle cx="157.78" cy="128.80" r="1.25" fill="#3a3a3a"/>
<circle cx="160.41" cy="128.98" r="1.25" fill="#3a3a3a"/>
<circle cx="163.26" cy="129.58" r="1.25" fill="#3a3a3a"/>
<circle cx="165.59" cy="129.14" r="1.25" fill="#3a3a3a"/>
<circle cx="167.92" cy="128.75" r="1.25" fill="#3a3a3a"/>
<circle cx="170.64" cy="128.54" r="1.25" fill="#3a3a3a"/>
<circle cx="173.49" cy="128.20" r="1.25" fill="#3a3a3a"/>
<circle cx="175.85" cy="127.91" r="1.25" fill="#3a3a3a"/>
<polyline points="150.55,129.20 153.68,129.66 156.80,129.86 159.93,130.07 163.05,130.51 166.18,130.03 169.30,129.86 172.43,129.67 175.55,129.20" fill="none" stroke="#757575" stroke-width="1.6" stroke-linecap="round" stroke-linejoin="round"/>
<circle cx="150.55" cy="129.35" r="1.25" fill="#3a3a3a"/>
<circle cx="153.17" cy="129.38" r="1.25" fill="#3a3a3a"/>
<circle cx="155.47" cy="129.58" r="1.25" fill="#3a3a3a"/>
<circle cx="158.21" cy="130.01" r="1.25" fill="#3a3a3a"/>
<circle cx="160.72" cy="130.19" r="1.25" fill="#3a3a3a"/>
<circle cx="162.88" cy="130.61" r="1.25" fill="#3a3a3a"/>
<circle cx="165.84" cy="130.35" r="1.25" fill="#3a3a3a"/>
<circle cx="168.23" cy="130.09" r="1.25" fill="#3a3a3a"/>
<circle cx="170.69" cy="129.60" r="1.25" fill="#3a3a3a"/>
<circle cx="173.06" cy="129.40" r="1.25" fill="#3a3a3a"/>
<circle cx="175.55" cy="129.01" r="1.25" fill="#3a3a3a"/>
<polyline points="150.25,132.20 153.45,132.48 156.65,132.98 159.85,133.40 163.05,133.96 166.25,133.61 169.45,133.03 172.65,132.76 175.85,132.20" fill="none" stroke="#757575" stroke-width="1.6" stroke-linecap="round" stroke-linejoin="round"/>
<circle cx="150.25" cy="132.40" r="1.25" fill="#3a3a3a"/>
<circle cx="153.08" cy="132.52" r="1.25" fill="#3a3a3a"/>
<circle cx="155.20" cy="132.75" r="1.25" fill="#3a3a3a"/>
<circle cx="157.75" cy="133.08" r="1.25" fill="#3a3a3a"/>
<circle cx="160.56" cy="133.73" r="1.25" fill="#3a3a3a"/>
<circle cx="163.25" cy="133.86" r="1.25" fill="#3a3a3a"/>
<circle cx="165.70" cy="133.67" r="1.25" fill="#3a3a3a"/>
<circle cx="167.92" cy="133.32" r="1.25" fill="#3a3a3a"/>
<circle cx="170.98" cy="132.96" r="1.25" fill="#3a3a3a"/>
<circle cx="173.44" cy="132.51" r="1.25" fill="#3a3a3a"/>
<circle cx="175.85" cy="132.07" r="1.25" fill="#3a3a3a"/>
<polyline points="150.55,133.20 153.68,133.71 156.80,134.00 159.93,134.57 163.05,135.04 166.18,134.44 169.30,134.02 172.43,133.76 175.55,133.20" fill="none" stroke="#757575" stroke-width="1.6" stroke-linecap="round" stroke-linejoin="round"/>
<circle cx="150.55" cy="133.29" r="1.25" fill="#3a3a3a"/>
<circle cx="152.85" cy="133.36" r="1.25" fill="#3a3a3a"/>
<circle cx="155.34" cy="134.01" r="1.25" fill="#3a3a3a"/>
<circle cx="158.23" cy="134.10" r="1.25" fill="#3a3a3a"/>
<circle cx="160.75" cy="134.78" r="1.25" fill="#3a3a3a"/>
<circle cx="163.14" cy="134.83" r="1.25" fill="#3a3a3a"/>
<circle cx="165.58" cy="134.41" r="1.25" fill="#3a3a3a"/>
<circle cx="167.76" cy="134.45" r="1.25" fill="#3a3a3a"/>
<circle cx="170.64" cy="133.88" r="1.25" fill="#3a3a3a"/>
<circle cx="173.31" cy="133.48" r="1.25" fill="#3a3a3a"/>
<circle cx="175.55" cy="133.35" r="1.25" fill="#3a3a3a"/>
<polyline points="150.25,136.30 153.45,136.82 156.65,137.06 159.85,137.50 163.05,137.94 166.25,137.50 169.45,137.18 172.65,136.65 175.85,136.30" fill="none" stroke="#757575" stroke-width="1.6" stroke-linecap="round" stroke-linejoin="round"/>
<circle cx="150.25" cy="136.27" r="1.25" fill="#3a3a3a"/>
<circle cx="152.59" cy="136.77" r="1.25" fill="#3a3a3a"/>
<circle cx="155.28" cy="136.95" r="1.25" fill="#3a3a3a"/>
<circle cx="157.98" cy="137.49" r="1.25" fill="#3a3a3a"/>
<circle cx="160.44" cy="137.82" r="1.25" fill="#3a3a3a"/>
<circle cx="163.05" cy="138.01" r="1.25" fill="#3a3a3a"/>
<circle cx="165.62" cy="137.47" r="1.25" fill="#3a3a3a"/>
<circle cx="168.13" cy="137.20" r="1.25" fill="#3a3a3a"/>
<circle cx="170.43" cy="137.14" r="1.25" fill="#3a3a3a"/>
<circle cx="173.09" cy="136.66" r="1.25" fill="#3a3a3a"/>
<circle cx="175.85" cy="136.39" r="1.25" fill="#3a3a3a"/>
<polyline points="150.55,137.30 153.68,137.74 156.80,138.10 159.93,138.58 163.05,139.02 166.18,138.66 169.30,138.03 172.43,137.74 175.55,137.30" fill="none" stroke="#757575" stroke-width="1.6" stroke-linecap="round" stroke-linejoin="round"/>
<circle cx="150.55" cy="137.20" r="1.25" fill="#3a3a3a"/>
<circle cx="152.92" cy="137.73" r="1.25" fill="#3a3a3a"/>
<circle cx="155.55" cy="138.01" r="1.25" fill="#3a3a3a"/>
<circle cx="158.21" cy="138.51" r="1.25" fill="#3a3a3a"/>
<circle cx="160.52" cy="138.70" r="1.25" fill="#3a3a3a"/>
<circle cx="163.05" cy="139.00" r="1.25" fill="#3a3a3a"/>
<circle cx="165.67" cy="138.63" r="1.25" fill="#3a3a3a"/>
<circle cx="168.07" cy="138.31" r="1.25" fill="#3a3a3a"/>
<circle cx="170.81" cy="138.02" r="1.25" fill="#3a3a3a"/>
<circle cx="173.28" cy="137.79" r="1.25" fill="#3a3a3a"/>
<circle cx="175.55" cy="137.20" r="1.25" fill="#3a3a3a"/>
<circle cx="151.45" cy="141.50" r="1.3" fill="#3a3a3a"/>
<circle cx="154.75" cy="141.50" r="1.3" fill="#3a3a3a"/>
<circle cx="157.55" cy="141.50" r="1.3" fill="#3a3a3a"/>
<circle cx="161.85" cy="141.50" r="1.3" fill="#3a3a3a"/>
<circle cx="166.35" cy="141.50" r="1.3" fill="#3a3a3a"/>
<circle cx="169.05" cy="141.50" r="1.3" fill="#3a3a3a"/>
<circle cx="172.25" cy="141.50" r="1.3" fill="#3a3a3a"/>
<circle cx="175.55" cy="141.50" r="1.3" fill="#3a3a3a"/>
<polyline points="150.55,142.90 153.68,143.27 156.80,143.73 159.93,144.05 163.05,144.19 166.18,143.84 169.30,143.58 172.43,143.12 175.55,142.90" fill="none" stroke="#757575" stroke-width="1.6" stroke-linecap="round" stroke-linejoin="round"/>
<circle cx="150.55" cy="142.80" r="1.25" fill="#3a3a3a"/>
<circle cx="152.79" cy="143.22" r="1.25" fill="#3a3a3a"/>
<circle cx="155.72" cy="143.64" r="1.25" fill="#3a3a3a"/>
<circle cx="157.84" cy="143.80" r="1.25" fill="#3a3a3a"/>
<circle cx="160.65" cy="143.89" r="1.25" fill="#3a3a3a"/>
<circle cx="163.28" cy="144.46" r="1.25" fill="#3a3a3a"/>
<circle cx="165.38" cy="144.22" r="1.25" fill="#3a3a3a"/>
<circle cx="167.99" cy="143.74" r="1.25" fill="#3a3a3a"/>
<circle cx="170.84" cy="143.56" r="1.25" fill="#3a3a3a"/>
<circle cx="172.85" cy="143.18" r="1.25" fill="#3a3a3a"/>
<circle cx="175.55" cy="142.91" r="1.25" fill="#3a3a3a"/>
<polyline points="150.85,143.90 153.90,144.20 156.95,144.51 160.00,144.90 163.05,145.37 166.10,144.81 169.15,144.62 172.20,144.23 175.25,143.90" fill="none" stroke="#757575" stroke-width="1.6" stroke-linecap="round" stroke-linejoin="round"/>
<circle cx="150.85" cy="143.71" r="1.25" fill="#3a3a3a"/>
<circle cx="153.19" cy="144.22" r="1.25" fill="#3a3a3a"/>
<circle cx="155.74" cy="144.29" r="1.25" fill="#3a3a3a"/>
<circle cx="158.46" cy="144.89" r="1.25" fill="#3a3a3a"/>
<circle cx="160.89" cy="144.89" r="1.25" fill="#3a3a3a"/>
<circle cx="162.91" cy="145.10" r="1.25" fill="#3a3a3a"/>
<circle cx="165.66" cy="144.91" r="1.25" fill="#3a3a3a"/>
<circle cx="167.71" cy="144.73" r="1.25" fill="#3a3a3a"/>
<circle cx="170.62" cy="144.56" r="1.25" fill="#3a3a3a"/>
<circle cx="172.67" cy="144.06" r="1.25" fill="#3a3a3a"/>
<circle cx="175.25" cy="144.07" r="1.25" fill="#3a3a3a"/>
<circle cx="151.55" cy="146.64" r="1.25" fill="#3a3a3a"/>
<circle cx="154.46" cy="146.85" r="1.25" fill="#3a3a3a"/>
<circle cx="155.87" cy="147.37" r="1.25" fill="#3a3a3a"/>
<circle cx="159.08" cy="147.57" r="1.25" fill="#3a3a3a"/>
<circle cx="162.56" cy="148.39" r="1.25" fill="#3a3a3a"/>
<circle cx="164.87" cy="147.91" r="1.25" fill="#3a3a3a"/>
<circle cx="167.52" cy="147.48" r="1.25" fill="#3a3a3a"/>
<circle cx="170.09" cy="147.28" r="1.25" fill="#3a3a3a"/>
<circle cx="171.71" cy="147.07" r="1.25" fill="#3a3a3a"/>
<circle cx="174.55" cy="146.81" r="1.25" fill="#3a3a3a"/>
<circle cx="158.65" cy="151.40" r="1.3" fill="#3a3a3a"/>
<circle cx="161.45" cy="151.40" r="1.3" fill="#3a3a3a"/>
<circle cx="164.45" cy="151.40" r="1.3" fill="#3a3a3a"/>
<circle cx="167.65" cy="151.40" r="1.3" fill="#3a3a3a"/>
<circle cx="161.55" cy="153.20" r="1.3" fill="#3a3a3a"/>
<circle cx="164.55" cy="153.20" r="1.3" fill="#3a3a3a"/>
<circle cx="162.85" cy="158.30" r="1.3" fill="#3a3a3a"/>
<circle cx="195.00" cy="86.80" r="1.3" fill="#3a3a3a"/>
<circle cx="194.00" cy="88.10" r="1.3" fill="#3a3a3a"/>
<circle cx="196.70" cy="90.60" r="1.3" fill="#3a3a3a"/>
<circle cx="193.60" cy="94.40" r="1.3" fill="#3a3a3a"/>
<circle cx="196.40" cy="94.40" r="1.3" fill="#3a3a3a"/>
<circle cx="190.90" cy="97.60" r="1.3" fill="#3a3a3a"/>
<circle cx="193.60" cy="97.60" r="1.3" fill="#3a3a3a"/>
<circle cx="196.40" cy="97.60" r="1.3" fill="#3a3a3a"/>
<circle cx="198.50" cy="97.60" r="1.3" fill="#3a3a3a"/>
<circle cx="183.00" cy="98.98" r="1.25" fill="#3a3a3a"/>
<circle cx="184.97" cy="99.36" r="1.25" fill="#3a3a3a"/>
<circle cx="187.85" cy="99.51" r="1.25" fill="#3a3a3a"/>
<circle cx="190.37" cy="99.80" r="1.25" fill="#3a3a3a"/>
<circle cx="193.11" cy="100.27" r="1.25" fill="#3a3a3a"/>
<circle cx="195.97" cy="100.61" r="1.25" fill="#3a3a3a"/>
<circle cx="198.61" cy="100.15" r="1.25" fill="#3a3a3a"/>
<circle cx="201.07" cy="99.77" r="1.25" fill="#3a3a3a"/>
<circle cx="203.43" cy="99.42" r="1.25" fill="#3a3a3a"/>
<circle cx="207.00" cy="98.86" r="1.25" fill="#3a3a3a"/>
<polyline points="182.50,101.70 185.62,102.14 188.75,102.47 191.88,102.73 195.00,103.19 198.12,102.96 201.25,102.33 204.38,102.17 207.50,101.70" fill="none" stroke="#757575" stroke-width="1.6" stroke-linecap="round" stroke-linejoin="round"/>
<circle cx="182.50" cy="101.67" r="1.25" fill="#3a3a3a"/>
<circle cx="185.00" cy="102.13" r="1.25" fill="#3a3a3a"/>
<circle cx="187.44" cy="102.29" r="1.25" fill="#3a3a3a"/>
<circle cx="190.11" cy="102.81" r="1.25" fill="#3a3a3a"/>
<circle cx="192.41" cy="103.02" r="1.25" fill="#3a3a3a"/>
<circle cx="195.12" cy="103.24" r="1.25" fill="#3a3a3a"/>
<circle cx="197.44" cy="102.85" r="1.25" fill="#3a3a3a"/>
<circle cx="199.73" cy="102.48" r="1.25" fill="#3a3a3a"/>
<circle cx="202.24" cy="102.43" r="1.25" fill="#3a3a3a"/>
<circle cx="204.85" cy="101.88" r="1.25" fill="#3a3a3a"/>
<circle cx="207.50" cy="101.53" r="1.25" fill="#3a3a3a"/>
<circle cx="182.50" cy="104.27" r="1.25" fill="#3a3a3a"/>
<circle cx="185.65" cy="104.56" r="1.25" fill="#3a3a3a"/>
<circle cx="187.12" cy="104.53" r="1.25" fill="#3a3a3a"/>
<circle cx="189.64" cy="104.94" r="1.25" fill="#3a3a3a"/>
<circle cx="191.90" cy="105.20" r="1.25" fill="#3a3a3a"/>
<circle cx="194.59" cy="105.78" r="1.25" fill="#3a3a3a"/>
<circle cx="198.33" cy="105.22" r="1.25" fill="#3a3a3a"/>
<circle cx="199.55" cy="105.29" r="1.25" fill="#3a3a3a"/>
<circle cx="202.17" cy="104.67" r="1.25" fill="#3a3a3a"/>
<circle cx="204.13" cy="104.45" r="1.25" fill="#3a3a3a"/>
<circle cx="207.50" cy="104.09" r="1.25" fill="#3a3a3a"/>
<polyline points="182.20,106.40 185.40,106.85 188.60,107.21 191.80,107.75 195.00,108.05 198.20,107.68 201.40,107.18 204.60,106.82 207.80,106.40" fill="none" stroke="#757575" stroke-width="1.6" stroke-linecap="round" stroke-linejoin="round"/>
<circle cx="182.20" cy="106.22" r="1.25" fill="#3a3a3a"/>
<circle cx="184.47" cy="106.64" r="1.25" fill="#3a3a3a"/>
<circle cx="187.16" cy="107.13" r="1.25" fill="#3a3a3a"/>
<circle cx="189.90" cy="107.58" r="1.25" fill="#3a3a3a"/>
<circle cx="192.53" cy="107.94" r="1.25" fill="#3a3a3a"/>
<circle cx="195.23" cy="108.12" r="1.25" fill="#3a3a3a"/>
<circle cx="197.46" cy="108.05" r="1.25" fill="#3a3a3a"/>
<circle cx="199.91" cy="107.60" r="1.25" fill="#3a3a3a"/>
<circle cx="202.77" cy="106.93" r="1.25" fill="#3a3a3a"/>
<circle cx="205.44" cy="106.89" r="1.25" fill="#3a3a3a"/>
<circle cx="207.80" cy="106.45" r="1.25" fill="#3a3a3a"/>
<circle cx="185.00" cy="109.22" r="1.25" fill="#3a3a3a"/>
<circle cx="188.48" cy="109.44" r="1.25" fill="#3a3a3a"/>
<circle cx="190.76" cy="109.97" r="1.25" fill="#3a3a3a"/>
<circle cx="194.24" cy="110.64" r="1.25" fill="#3a3a3a"/>
<circle cx="197.08" cy="110.33" r="1.25" fill="#3a3a3a"/>
<circle cx="200.07" cy="109.93" r="1.25" fill="#3a3a3a"/>
<circle cx="202.53" cy="109.34" r="1.25" fill="#3a3a3a"/>
<circle cx="205.00" cy="108.87" r="1.25" fill="#3a3a3a"/>
<circle cx="193.60" cy="112.80" r="1.3" fill="#3a3a3a"/>
<circle cx="196.40" cy="112.80" r="1.3" fill="#3a3a3a"/>
<circle cx="185.00" cy="114.40" r="1.3" fill="#3a3a3a"/>
<circle cx="193.50" cy="114.40" r="1.3" fill="#3a3a3a"/>
<circle cx="196.50" cy="114.40" r="1.3" fill="#3a3a3a"/>
<circle cx="205.40" cy="114.40" r="1.3" fill="#3a3a3a"/>
<circle cx="187.60" cy="116.00" r="1.3" fill="#3a3a3a"/>
<circle cx="195.00" cy="116.00" r="1.3" fill="#3a3a3a"/>
<circle cx="203.00" cy="116.00" r="1.3" fill="#3a3a3a"/>
<circle cx="192.80" cy="117.40" r="1.3" fill="#3a3a3a"/>
<circle cx="197.20" cy="117.40" r="1.3" fill="#3a3a3a"/>
<circle cx="190.50" cy="118.40" r="1.3" fill="#3a3a3a"/>
<circle cx="200.00" cy="118.40" r="1.3" fill="#3a3a3a"/>
<circle cx="192.60" cy="119.50" r="1.3" fill="#3a3a3a"/>
<circle cx="195.30" cy="119.50" r="1.3" fill="#3a3a3a"/>
<circle cx="198.10" cy="119.50" r="1.3" fill="#3a3a3a"/>
<circle cx="187.70" cy="120.90" r="1.3" fill="#3a3a3a"/>
<circle cx="191.00" cy="120.90" r="1.3" fill="#3a3a3a"/>
<circle cx="199.00" cy="120.90" r="1.3" fill="#3a3a3a"/>
<circle cx="201.90" cy="120.90" r="1.3" fill="#3a3a3a"/>
<circle cx="186.00" cy="122.80" r="1.3" fill="#3a3a3a"/>
<circle cx="190.50" cy="122.80" r="1.3" fill="#3a3a3a"/>
<circle cx="193.50" cy="122.80" r="1.3" fill="#3a3a3a"/>
<circle cx="196.50" cy="122.80" r="1.3" fill="#3a3a3a"/>
<circle cx="199.50" cy="122.80" r="1.3" fill="#3a3a3a"/>
<circle cx="204.00" cy="122.80" r="1.3" fill="#3a3a3a"/>
<polyline points="182.20,124.30 185.40,124.31 188.60,124.51 191.80,124.56 195.00,124.90 198.20,124.69 201.40,124.59 204.60,124.46 207.80,124.30" fill="none" stroke="#757575" stroke-width="1.6" stroke-linecap="round" stroke-linejoin="round"/>
<circle cx="182.20" cy="124.37" r="1.25" fill="#3a3a3a"/>
<circle cx="184.75" cy="124.20" r="1.25" fill="#3a3a3a"/>
<circle cx="187.50" cy="124.61" r="1.25" fill="#3a3a3a"/>
<circle cx="189.88" cy="124.61" r="1.25" fill="#3a3a3a"/>
<circle cx="192.54" cy="124.53" r="1.25" fill="#3a3a3a"/>
<circle cx="195.14" cy="124.70" r="1.25" fill="#3a3a3a"/>
<circle cx="197.30" cy="124.62" r="1.25" fill="#3a3a3a"/>
<circle cx="200.26" cy="124.48" r="1.25" fill="#3a3a3a"/>
<circle cx="202.82" cy="124.68" r="1.25" fill="#3a3a3a"/>
<circle cx="205.24" cy="124.35" r="1.25" fill="#3a3a3a"/>
<circle cx="207.80" cy="124.29" r="1.25" fill="#3a3a3a"/>
<polyline points="182.50,125.50 185.62,125.76 188.75,125.98 191.88,126.14 195.00,126.34 198.12,125.97 201.25,125.79 204.38,125.63 207.50,125.50" fill="none" stroke="#757575" stroke-width="1.6" stroke-linecap="round" stroke-linejoin="round"/>
<circle cx="182.50" cy="125.60" r="1.25" fill="#3a3a3a"/>
<circle cx="184.88" cy="125.68" r="1.25" fill="#3a3a3a"/>
<circle cx="187.21" cy="125.63" r="1.25" fill="#3a3a3a"/>
<circle cx="189.86" cy="126.04" r="1.25" fill="#3a3a3a"/>
<circle cx="192.62" cy="126.22" r="1.25" fill="#3a3a3a"/>
<circle cx="194.87" cy="126.30" r="1.25" fill="#3a3a3a"/>
<circle cx="197.48" cy="126.13" r="1.25" fill="#3a3a3a"/>
<circle cx="199.77" cy="126.15" r="1.25" fill="#3a3a3a"/>
<circle cx="202.32" cy="126.02" r="1.25" fill="#3a3a3a"/>
<circle cx="205.26" cy="125.45" r="1.25" fill="#3a3a3a"/>
<circle cx="207.50" cy="125.48" r="1.25" fill="#3a3a3a"/>
<circle cx="182.80" cy="128.16" r="1.25" fill="#3a3a3a"/>
<circle cx="186.40" cy="128.39" r="1.25" fill="#3a3a3a"/>
<circle cx="187.78" cy="128.43" r="1.25" fill="#3a3a3a"/>
<circle cx="191.78" cy="128.89" r="1.25" fill="#3a3a3a"/>
<circle cx="193.80" cy="129.08" r="1.25" fill="#3a3a3a"/>
<circle cx="196.40" cy="129.47" r="1.25" fill="#3a3a3a"/>
<circle cx="198.37" cy="129.17" r="1.25" fill="#3a3a3a"/>
<circle cx="201.79" cy="128.81" r="1.25" fill="#3a3a3a"/>
<circle cx="204.87" cy="128.13" r="1.25" fill="#3a3a3a"/>
<circle cx="207.20" cy="128.20" r="1.25" fill="#3a3a3a"/>
<circle cx="182.20" cy="131.99" r="1.25" fill="#3a3a3a"/>
<circle cx="183.91" cy="131.94" r="1.25" fill="#3a3a3a"/>
<circle cx="187.31" cy="132.53" r="1.25" fill="#3a3a3a"/>
<circle cx="189.53" cy="132.62" r="1.25" fill="#3a3a3a"/>
<circle cx="192.16" cy="133.00" r="1.25" fill="#3a3a3a"/>
<circle cx="195.61" cy="133.08" r="1.25" fill="#3a3a3a"/>
<circle cx="198.01" cy="133.24" r="1.25" fill="#3a3a3a"/>
<circle cx="199.44" cy="133.13" r="1.25" fill="#3a3a3a"/>
<circle cx="203.06" cy="132.72" r="1.25" fill="#3a3a3a"/>
<circle cx="204.86" cy="132.26" r="1.25" fill="#3a3a3a"/>
<circle cx="207.80" cy="131.95" r="1.25" fill="#3a3a3a"/>
<polyline points="182.20,135.60 185.40,136.20 188.60,136.53 191.80,136.91 195.00,137.38 198.20,136.88 201.40,136.36 204.60,135.93 207.80,135.60" fill="none" stroke="#757575" stroke-width="1.6" stroke-linecap="round" stroke-linejoin="round"/>
<circle cx="182.20" cy="135.73" r="1.25" fill="#3a3a3a"/>
<circle cx="184.63" cy="136.12" r="1.25" fill="#3a3a3a"/>
<circle cx="187.17" cy="136.21" r="1.25" fill="#3a3a3a"/>
<circle cx="189.89" cy="136.56" r="1.25" fill="#3a3a3a"/>
<circle cx="192.36" cy="137.21" r="1.25" fill="#3a3a3a"/>
<circle cx="195.23" cy="137.49" r="1.25" fill="#3a3a3a"/>
<circle cx="197.64" cy="137.19" r="1.25" fill="#3a3a3a"/>
<circle cx="200.38" cy="136.66" r="1.25" fill="#3a3a3a"/>
<circle cx="202.81" cy="136.12" r="1.25" fill="#3a3a3a"/>
<circle cx="205.38" cy="135.92" r="1.25" fill="#3a3a3a"/>
<circle cx="207.80" cy="135.70" r="1.25" fill="#3a3a3a"/>
<polyline points="182.50,136.60 185.62,137.09 188.75,137.44 191.88,137.81 195.00,138.53 198.12,137.84 201.25,137.49 204.38,137.00 207.50,136.60" fill="none" stroke="#757575" stroke-width="1.6" stroke-linecap="round" stroke-linejoin="round"/>
<circle cx="182.50" cy="136.52" r="1.25" fill="#3a3a3a"/>
<circle cx="185.14" cy="137.17" r="1.25" fill="#3a3a3a"/>
<circle cx="187.36" cy="137.36" r="1.25" fill="#3a3a3a"/>
<circle cx="189.88" cy="137.69" r="1.25" fill="#3a3a3a"/>
<circle cx="192.44" cy="137.90" r="1.25" fill="#3a3a3a"/>
<circle cx="194.80" cy="138.25" r="1.25" fill="#3a3a3a"/>
<circle cx="197.74" cy="138.00" r="1.25" fill="#3a3a3a"/>
<circle cx="199.83" cy="137.87" r="1.25" fill="#3a3a3a"/>
<circle cx="202.80" cy="137.26" r="1.25" fill="#3a3a3a"/>
<circle cx="204.78" cy="136.87" r="1.25" fill="#3a3a3a"/>
<circle cx="207.50" cy="136.44" r="1.25" fill="#3a3a3a"/>
<circle cx="186.00" cy="141.00" r="1.3" fill="#3a3a3a"/>
<circle cx="189.50" cy="141.00" r="1.3" fill="#3a3a3a"/>
<circle cx="193.60" cy="141.00" r="1.3" fill="#3a3a3a"/>
<circle cx="198.50" cy="141.00" r="1.3" fill="#3a3a3a"/>
<circle cx="201.30" cy="141.00" r="1.3" fill="#3a3a3a"/>
<circle cx="204.00" cy="141.00" r="1.3" fill="#3a3a3a"/>
<polyline points="183.20,142.30 186.15,142.68 189.10,143.03 192.05,143.50 195.00,143.93 197.95,143.60 200.90,143.27 203.85,142.80 206.80,142.30" fill="none" stroke="#757575" stroke-width="1.6" stroke-linecap="round" stroke-linejoin="round"/>
<circle cx="183.20" cy="142.27" r="1.25" fill="#3a3a3a"/>
<circle cx="185.77" cy="142.68" r="1.25" fill="#3a3a3a"/>
<circle cx="188.37" cy="142.98" r="1.25" fill="#3a3a3a"/>
<circle cx="190.80" cy="143.31" r="1.25" fill="#3a3a3a"/>
<circle cx="193.97" cy="143.70" r="1.25" fill="#3a3a3a"/>
<circle cx="196.31" cy="143.86" r="1.25" fill="#3a3a3a"/>
<circle cx="199.15" cy="143.29" r="1.25" fill="#3a3a3a"/>
<circle cx="201.42" cy="142.97" r="1.25" fill="#3a3a3a"/>
<circle cx="204.12" cy="142.66" r="1.25" fill="#3a3a3a"/>
<circle cx="206.80" cy="142.48" r="1.25" fill="#3a3a3a"/>
<polyline points="183.50,143.30 186.38,143.83 189.25,144.26 192.12,144.43 195.00,144.86 197.88,144.64 200.75,144.27 203.62,143.72 206.50,143.30" fill="none" stroke="#757575" stroke-width="1.6" stroke-linecap="round" stroke-linejoin="round"/>
<circle cx="183.50" cy="143.33" r="1.25" fill="#3a3a3a"/>
<circle cx="185.76" cy="143.59" r="1.25" fill="#3a3a3a"/>
<circle cx="188.87" cy="144.22" r="1.25" fill="#3a3a3a"/>
<circle cx="191.38" cy="144.65" r="1.25" fill="#3a3a3a"/>
<circle cx="193.57" cy="144.63" r="1.25" fill="#3a3a3a"/>
<circle cx="196.07" cy="144.85" r="1.25" fill="#3a3a3a"/>
<circle cx="198.94" cy="144.59" r="1.25" fill="#3a3a3a"/>
<circle cx="201.52" cy="144.09" r="1.25" fill="#3a3a3a"/>
<circle cx="204.10" cy="143.64" r="1.25" fill="#3a3a3a"/>
<circle cx="206.50" cy="143.32" r="1.25" fill="#3a3a3a"/>
<circle cx="184.50" cy="145.57" r="1.25" fill="#3a3a3a"/>
<circle cx="187.64" cy="146.15" r="1.25" fill="#3a3a3a"/>
<circle cx="190.52" cy="146.79" r="1.25" fill="#3a3a3a"/>
<circle cx="192.01" cy="146.76" r="1.25" fill="#3a3a3a"/>
<circle cx="194.54" cy="147.40" r="1.25" fill="#3a3a3a"/>
<circle cx="197.99" cy="146.75" r="1.25" fill="#3a3a3a"/>
<circle cx="199.46" cy="146.73" r="1.25" fill="#3a3a3a"/>
<circle cx="203.03" cy="146.12" r="1.25" fill="#3a3a3a"/>
<circle cx="205.50" cy="145.66" r="1.25" fill="#3a3a3a"/>
<circle cx="187.70" cy="149.40" r="1.3" fill="#3a3a3a"/>
<circle cx="190.50" cy="149.40" r="1.3" fill="#3a3a3a"/>
<circle cx="193.50" cy="149.40" r="1.3" fill="#3a3a3a"/>
<circle cx="196.50" cy="149.40" r="1.3" fill="#3a3a3a"/>
<circle cx="199.50" cy="149.40" r="1.3" fill="#3a3a3a"/>
<circle cx="202.30" cy="149.40" r="1.3" fill="#3a3a3a"/>
<circle cx="191.60" cy="151.00" r="1.3" fill="#3a3a3a"/>
<circle cx="195.00" cy="151.00" r="1.3" fill="#3a3a3a"/>
<circle cx="198.40" cy="151.00" r="1.3" fill="#3a3a3a"/>
<circle cx="192.20" cy="152.60" r="1.3" fill="#3a3a3a"/>
<circle cx="195.70" cy="152.60" r="1.3" fill="#3a3a3a"/>
<circle cx="193.50" cy="154.00" r="1.3" fill="#3a3a3a"/>
<circle cx="196.50" cy="154.00" r="1.3" fill="#3a3a3a"/>
<circle cx="195.00" cy="158.00" r="1.3" fill="#3a3a3a"/>
<circle cx="224.15" cy="128.50" r="1.3" fill="#888888"/>
<circle cx="228.95" cy="128.50" r="1.3" fill="#888888"/>
<circle cx="225.95" cy="131.70" r="1.3" fill="#888888"/>
<circle cx="229.95" cy="131.70" r="1.3" fill="#888888"/>
<circle cx="224.75" cy="135.30" r="1.3" fill="#888888"/>
<circle cx="228.95" cy="135.30" r="1.3" fill="#888888"/>
<circle cx="225.95" cy="138.80" r="1.3" fill="#888888"/>
<circle cx="228.35" cy="141.20" r="1.3" fill="#888888"/>
<circle cx="224.15" cy="145.90" r="1.3" fill="#888888"/>
<circle cx="229.55" cy="145.90" r="1.3" fill="#888888"/>
<circle cx="225.45" cy="148.90" r="1.3" fill="#888888"/>
<circle cx="227.95" cy="148.90" r="1.3" fill="#888888"/>
<circle cx="225.95" cy="151.80" r="1.3" fill="#888888"/>
<circle cx="228.45" cy="151.80" r="1.3" fill="#888888"/>
<circle cx="216.62" cy="153.60" r="1.3" fill="#888888"/>
<circle cx="219.57" cy="153.60" r="1.3" fill="#888888"/>
<circle cx="222.52" cy="153.60" r="1.3" fill="#888888"/>
<circle cx="225.47" cy="153.60" r="1.3" fill="#888888"/>
<circle cx="228.42" cy="153.60" r="1.3" fill="#888888"/>
<circle cx="231.38" cy="153.60" r="1.3" fill="#888888"/>
<circle cx="234.32" cy="153.60" r="1.3" fill="#888888"/>
<circle cx="237.27" cy="153.60" r="1.3" fill="#888888"/>
<circle cx="220.95" cy="155.80" r="1.3" fill="#888888"/>
<circle cx="223.95" cy="155.80" r="1.3" fill="#888888"/>
<circle cx="226.95" cy="155.80" r="1.3" fill="#888888"/>
<circle cx="229.95" cy="155.80" r="1.3" fill="#888888"/>
<circle cx="232.95" cy="155.80" r="1.3" fill="#888888"/>
<circle cx="222.52" cy="157.80" r="1.3" fill="#888888"/>
<circle cx="225.47" cy="157.80" r="1.3" fill="#888888"/>
<circle cx="228.42" cy="157.80" r="1.3" fill="#888888"/>
<circle cx="231.38" cy="157.80" r="1.3" fill="#888888"/>
<polyline points="214.45,158.10 217.57,158.68 220.70,159.05 223.82,159.69 226.95,160.29 230.07,159.89 233.20,159.24 236.32,158.77 239.45,158.10" fill="none" stroke="#ababab" stroke-width="1.6" stroke-linecap="round" stroke-linejoin="round"/>
<circle cx="214.45" cy="158.09" r="1.25" fill="#888888"/>
<circle cx="216.79" cy="158.41" r="1.25" fill="#888888"/>
<circle cx="219.73" cy="159.11" r="1.25" fill="#888888"/>
<circle cx="221.83" cy="159.21" r="1.25" fill="#888888"/>
<circle cx="224.45" cy="159.93" r="1.25" fill="#888888"/>
<circle cx="226.90" cy="160.19" r="1.25" fill="#888888"/>
<circle cx="229.55" cy="160.01" r="1.25" fill="#888888"/>
<circle cx="231.79" cy="159.26" r="1.25" fill="#888888"/>
<circle cx="234.35" cy="158.97" r="1.25" fill="#888888"/>
<circle cx="237.06" cy="158.40" r="1.25" fill="#888888"/>
<circle cx="239.45" cy="158.22" r="1.25" fill="#888888"/>
<polyline points="216.95,160.60 219.45,161.17 221.95,161.60 224.45,162.01 226.95,162.74 229.45,162.04 231.95,161.70 234.45,161.02 236.95,160.60" fill="none" stroke="#ababab" stroke-width="1.6" stroke-linecap="round" stroke-linejoin="round"/>
<circle cx="216.95" cy="160.49" r="1.25" fill="#888888"/>
<circle cx="219.61" cy="161.05" r="1.25" fill="#888888"/>
<circle cx="222.22" cy="161.65" r="1.25" fill="#888888"/>
<circle cx="224.26" cy="161.95" r="1.25" fill="#888888"/>
<circle cx="226.90" cy="162.66" r="1.25" fill="#888888"/>
<circle cx="229.72" cy="161.90" r="1.25" fill="#888888"/>
<circle cx="231.89" cy="161.50" r="1.25" fill="#888888"/>
<circle cx="234.73" cy="160.90" r="1.25" fill="#888888"/>
<circle cx="236.95" cy="160.42" r="1.25" fill="#888888"/>
<circle cx="223.95" cy="165.50" r="1.3" fill="#888888"/>
<circle cx="226.95" cy="165.50" r="1.3" fill="#888888"/>
<circle cx="229.95" cy="165.50" r="1.3" fill="#888888"/>
<circle cx="226.95" cy="169.30" r="1.3" fill="#888888"/>
<circle cx="341.90" cy="157.80" r="1.3" fill="#9c9c9c"/>
<circle cx="344.70" cy="157.80" r="1.3" fill="#9c9c9c"/>
<circle cx="336.10" cy="160.40" r="1.3" fill="#9c9c9c"/>
<circle cx="347.90" cy="160.40" r="1.3" fill="#9c9c9c"/>
<circle cx="350.80" cy="160.40" r="1.3" fill="#9c9c9c"/>
<circle cx="339.50" cy="161.60" r="1.3" fill="#9c9c9c"/>
<circle cx="342.50" cy="161.60" r="1.3" fill="#9c9c9c"/>
<circle cx="345.50" cy="161.60" r="1.3" fill="#9c9c9c"/>
<circle cx="335.20" cy="163.30" r="1.3" fill="#9c9c9c"/>
<circle cx="338.20" cy="163.30" r="1.3" fill="#9c9c9c"/>
<circle cx="341.20" cy="163.30" r="1.3" fill="#9c9c9c"/>
<circle cx="344.20" cy="163.30" r="1.3" fill="#9c9c9c"/>
<circle cx="347.20" cy="163.30" r="1.3" fill="#9c9c9c"/>
<circle cx="333.20" cy="166.70" r="1.3" fill="#9c9c9c"/>
<circle cx="336.40" cy="166.70" r="1.3" fill="#9c9c9c"/>
<circle cx="339.00" cy="166.70" r="1.3" fill="#9c9c9c"/>
<circle cx="341.80" cy="166.70" r="1.3" fill="#9c9c9c"/>
<circle cx="344.70" cy="166.70" r="1.3" fill="#9c9c9c"/>
<circle cx="347.60" cy="166.70" r="1.3" fill="#9c9c9c"/>
<circle cx="350.20" cy="166.70" r="1.3" fill="#9c9c9c"/>
<circle cx="353.40" cy="166.70" r="1.3" fill="#9c9c9c"/>
<circle cx="336.90" cy="168.30" r="1.3" fill="#9c9c9c"/>
<circle cx="345.50" cy="168.30" r="1.3" fill="#9c9c9c"/>
<circle cx="348.20" cy="168.30" r="1.3" fill="#9c9c9c"/>
<circle cx="341.90" cy="169.50" r="1.3" fill="#9c9c9c"/>
<circle cx="375.64" cy="132.50" r="1.3" fill="#333333"/>
<circle cx="375.64" cy="137.30" r="1.3" fill="#333333"/>
<circle cx="372.24" cy="139.60" r="1.3" fill="#333333"/>
<circle cx="375.84" cy="141.20" r="1.3" fill="#333333"/>
<circle cx="379.64" cy="141.20" r="1.3" fill="#333333"/>
<circle cx="372.24" cy="144.20" r="1.3" fill="#333333"/>
<circle cx="378.34" cy="144.20" r="1.3" fill="#333333"/>
<circle cx="375.44" cy="146.60" r="1.3" fill="#333333"/>
<circle cx="366.84" cy="147.50" r="1.3" fill="#333333"/>
<circle cx="384.14" cy="147.50" r="1.3" fill="#333333"/>
<circle cx="369.74" cy="149.80" r="1.3" fill="#333333"/>
<circle cx="372.64" cy="149.80" r="1.3" fill="#333333"/>
<circle cx="378.64" cy="149.80" r="1.3" fill="#333333"/>
<circle cx="381.24" cy="149.80" r="1.3" fill="#333333"/>
<circle cx="364.84" cy="152.80" r="1.3" fill="#333333"/>
<circle cx="368.44" cy="152.80" r="1.3" fill="#333333"/>
<circle cx="371.64" cy="152.80" r="1.3" fill="#333333"/>
<circle cx="375.14" cy="152.80" r="1.3" fill="#333333"/>
<circle cx="378.64" cy="152.80" r="1.3" fill="#333333"/>
<circle cx="381.64" cy="152.80" r="1.3" fill="#333333"/>
<circle cx="385.14" cy="152.80" r="1.3" fill="#333333"/>
<circle cx="366.44" cy="155.60" r="1.3" fill="#333333"/>
<circle cx="369.74" cy="155.60" r="1.3" fill="#333333"/>
<circle cx="373.54" cy="155.60" r="1.3" fill="#333333"/>
<circle cx="376.44" cy="155.60" r="1.3" fill="#333333"/>
<circle cx="379.94" cy="155.60" r="1.3" fill="#333333"/>
<circle cx="383.84" cy="155.60" r="1.3" fill="#333333"/>
<circle cx="368.04" cy="157.80" r="1.3" fill="#333333"/>
<circle cx="371.34" cy="157.80" r="1.3" fill="#333333"/>
<circle cx="375.14" cy="157.80" r="1.3" fill="#333333"/>
<circle cx="378.64" cy="157.80" r="1.3" fill="#333333"/>
<circle cx="382.54" cy="157.80" r="1.3" fill="#333333"/>
<circle cx="370.64" cy="159.70" r="1.3" fill="#333333"/>
<circle cx="373.84" cy="159.70" r="1.3" fill="#333333"/>
<circle cx="377.04" cy="159.70" r="1.3" fill="#333333"/>
<circle cx="379.64" cy="159.70" r="1.3" fill="#333333"/>
<circle cx="373.54" cy="161.30" r="1.3" fill="#333333"/>
<circle cx="376.74" cy="161.30" r="1.3" fill="#333333"/>
<circle cx="371.34" cy="165.80" r="1.3" fill="#333333"/>
<circle cx="377.04" cy="165.80" r="1.3" fill="#333333"/>
<circle cx="379.94" cy="165.80" r="1.3" fill="#333333"/>
<circle cx="373.84" cy="168.10" r="1.3" fill="#333333"/>
<circle cx="408.48" cy="138.50" r="1.3" fill="#888888"/>
<circle cx="405.78" cy="140.70" r="1.3" fill="#888888"/>
<circle cx="405.78" cy="144.10" r="1.3" fill="#888888"/>
<circle cx="408.68" cy="144.10" r="1.3" fill="#888888"/>
<circle cx="403.88" cy="147.60" r="1.3" fill="#888888"/>
<circle cx="406.88" cy="149.30" r="1.3" fill="#888888"/>
<circle cx="410.08" cy="149.30" r="1.3" fill="#888888"/>
<circle cx="397.08" cy="151.70" r="1.3" fill="#888888"/>
<circle cx="402.08" cy="151.70" r="1.3" fill="#888888"/>
<circle cx="408.08" cy="151.70" r="1.3" fill="#888888"/>
<circle cx="414.08" cy="151.70" r="1.3" fill="#888888"/>
<circle cx="403.58" cy="153.30" r="1.3" fill="#888888"/>
<circle cx="409.58" cy="153.30" r="1.3" fill="#888888"/>
<circle cx="402.08" cy="156.00" r="1.3" fill="#888888"/>
<circle cx="405.08" cy="156.00" r="1.3" fill="#888888"/>
<circle cx="408.08" cy="156.00" r="1.3" fill="#888888"/>
<circle cx="411.08" cy="156.00" r="1.3" fill="#888888"/>
<circle cx="405.58" cy="158.30" r="1.3" fill="#888888"/>
<circle cx="412.58" cy="158.30" r="1.3" fill="#888888"/>
<circle cx="401.38" cy="159.90" r="1.3" fill="#888888"/>
<circle cx="404.18" cy="159.90" r="1.3" fill="#888888"/>
<circle cx="407.38" cy="159.90" r="1.3" fill="#888888"/>
<circle cx="410.08" cy="159.90" r="1.3" fill="#888888"/>
<circle cx="405.08" cy="161.50" r="1.3" fill="#888888"/>
<circle cx="408.08" cy="161.50" r="1.3" fill="#888888"/>
<circle cx="403.08" cy="165.30" r="1.3" fill="#888888"/>
<circle cx="408.98" cy="165.30" r="1.3" fill="#888888"/>
<circle cx="411.78" cy="165.30" r="1.3" fill="#888888"/>
<circle cx="405.78" cy="167.50" r="1.3" fill="#888888"/>
<circle cx="439.22" cy="89.30" r="1.3" fill="#404040"/>
<circle cx="438.02" cy="96.40" r="1.3" fill="#404040"/>
<circle cx="439.02" cy="97.80" r="1.3" fill="#404040"/>
<circle cx="440.32" cy="99.80" r="1.3" fill="#404040"/>
<circle cx="438.52" cy="103.80" r="1.3" fill="#404040"/>
<circle cx="425.82" cy="106.60" r="1.3" fill="#404040"/>
<circle cx="430.32" cy="106.60" r="1.3" fill="#404040"/>
<circle cx="447.92" cy="106.60" r="1.3" fill="#404040"/>
<circle cx="450.32" cy="106.60" r="1.3" fill="#404040"/>
<circle cx="430.52" cy="107.58" r="1.25" fill="#404040"/>
<circle cx="432.99" cy="108.31" r="1.25" fill="#404040"/>
<circle cx="436.57" cy="108.67" r="1.25" fill="#404040"/>
<circle cx="439.45" cy="108.90" r="1.25" fill="#404040"/>
<circle cx="440.87" cy="108.35" r="1.25" fill="#404040"/>
<circle cx="444.67" cy="108.15" r="1.25" fill="#404040"/>
<circle cx="446.52" cy="107.57" r="1.25" fill="#404040"/>
<polyline points="426.02,109.30 429.14,109.90 432.27,110.36 435.39,110.91 438.52,111.45 441.64,110.85 444.77,110.25 447.89,109.78 451.02,109.30" fill="none" stroke="#797979" stroke-width="1.6" stroke-linecap="round" stroke-linejoin="round"/>
<circle cx="426.02" cy="109.24" r="1.25" fill="#404040"/>
<circle cx="428.79" cy="109.64" r="1.25" fill="#404040"/>
<circle cx="431.30" cy="110.11" r="1.25" fill="#404040"/>
<circle cx="433.43" cy="110.73" r="1.25" fill="#404040"/>
<circle cx="436.21" cy="111.07" r="1.25" fill="#404040"/>
<circle cx="438.25" cy="111.44" r="1.25" fill="#404040"/>
<circle cx="440.94" cy="111.24" r="1.25" fill="#404040"/>
<circle cx="443.34" cy="110.60" r="1.25" fill="#404040"/>
<circle cx="446.26" cy="109.95" r="1.25" fill="#404040"/>
<circle cx="448.47" cy="109.87" r="1.25" fill="#404040"/>
<circle cx="451.02" cy="109.41" r="1.25" fill="#404040"/>
<circle cx="426.52" cy="112.57" r="1.25" fill="#404040"/>
<circle cx="428.32" cy="112.91" r="1.25" fill="#404040"/>
<circle cx="432.64" cy="113.80" r="1.25" fill="#404040"/>
<circle cx="434.98" cy="114.55" r="1.25" fill="#404040"/>
<circle cx="436.89" cy="114.59" r="1.25" fill="#404040"/>
<circle cx="440.71" cy="114.66" r="1.25" fill="#404040"/>
<circle cx="442.08" cy="114.46" r="1.25" fill="#404040"/>
<circle cx="444.84" cy="113.73" r="1.25" fill="#404040"/>
<circle cx="446.93" cy="113.59" r="1.25" fill="#404040"/>
<circle cx="450.52" cy="113.01" r="1.25" fill="#404040"/>
<circle cx="427.52" cy="115.27" r="1.25" fill="#404040"/>
<circle cx="431.12" cy="115.68" r="1.25" fill="#404040"/>
<circle cx="432.51" cy="116.19" r="1.25" fill="#404040"/>
<circle cx="436.65" cy="117.25" r="1.25" fill="#404040"/>
<circle cx="438.30" cy="117.23" r="1.25" fill="#404040"/>
<circle cx="441.14" cy="116.87" r="1.25" fill="#404040"/>
<circle cx="444.84" cy="115.98" r="1.25" fill="#404040"/>
<circle cx="447.35" cy="115.75" r="1.25" fill="#404040"/>
<circle cx="449.52" cy="115.36" r="1.25" fill="#404040"/>
<circle cx="428.52" cy="117.94" r="1.25" fill="#404040"/>
<circle cx="431.21" cy="118.25" r="1.25" fill="#404040"/>
<circle cx="433.20" cy="118.67" r="1.25" fill="#404040"/>
<circle cx="436.51" cy="119.19" r="1.25" fill="#404040"/>
<circle cx="437.99" cy="119.82" r="1.25" fill="#404040"/>
<circle cx="440.58" cy="119.17" r="1.25" fill="#404040"/>
<circle cx="442.70" cy="118.99" r="1.25" fill="#404040"/>
<circle cx="445.72" cy="118.60" r="1.25" fill="#404040"/>
<circle cx="448.52" cy="117.99" r="1.25" fill="#404040"/>
<circle cx="430.02" cy="120.44" r="1.25" fill="#404040"/>
<circle cx="432.05" cy="120.47" r="1.25" fill="#404040"/>
<circle cx="434.19" cy="121.18" r="1.25" fill="#404040"/>
<circle cx="437.66" cy="121.97" r="1.25" fill="#404040"/>
<circle cx="439.28" cy="121.98" r="1.25" fill="#404040"/>
<circle cx="442.37" cy="121.38" r="1.25" fill="#404040"/>
<circle cx="445.01" cy="120.85" r="1.25" fill="#404040"/>
<circle cx="447.02" cy="120.28" r="1.25" fill="#404040"/>
<circle cx="432.02" cy="122.51" r="1.25" fill="#404040"/>
<circle cx="435.24" cy="123.49" r="1.25" fill="#404040"/>
<circle cx="437.34" cy="124.11" r="1.25" fill="#404040"/>
<circle cx="440.25" cy="123.87" r="1.25" fill="#404040"/>
<circle cx="441.96" cy="123.42" r="1.25" fill="#404040"/>
<circle cx="445.02" cy="122.53" r="1.25" fill="#404040"/>
<circle cx="437.02" cy="126.40" r="1.3" fill="#404040"/>
<circle cx="440.02" cy="126.40" r="1.3" fill="#404040"/>
<polyline points="425.72,127.30 428.92,127.72 432.12,127.92 435.32,128.15 438.52,128.47 441.72,128.35 444.92,127.90 448.12,127.52 451.32,127.30" fill="none" stroke="#797979" stroke-width="1.6" stroke-linecap="round" stroke-linejoin="round"/>
<circle cx="425.72" cy="127.42" r="1.25" fill="#404040"/>
<circle cx="428.37" cy="127.75" r="1.25" fill="#404040"/>
<circle cx="430.60" cy="127.75" r="1.25" fill="#404040"/>
<circle cx="433.59" cy="128.17" r="1.25" fill="#404040"/>
<circle cx="436.21" cy="128.10" r="1.25" fill="#404040"/>
<circle cx="438.40" cy="128.34" r="1.25" fill="#404040"/>
<circle cx="440.89" cy="128.47" r="1.25" fill="#404040"/>
<circle cx="443.69" cy="128.19" r="1.25" fill="#404040"/>
<circle cx="446.12" cy="127.93" r="1.25" fill="#404040"/>
<circle cx="448.73" cy="127.45" r="1.25" fill="#404040"/>
<circle cx="451.32" cy="127.41" r="1.25" fill="#404040"/>
<polyline points="425.72,131.30 428.92,131.58 432.12,131.48 435.32,131.78 438.52,131.94 441.72,131.67 444.92,131.56 448.12,131.34 451.32,131.30" fill="none" stroke="#797979" stroke-width="1.6" stroke-linecap="round" stroke-linejoin="round"/>
<circle cx="425.72" cy="131.18" r="1.25" fill="#404040"/>
<circle cx="428.13" cy="131.45" r="1.25" fill="#404040"/>
<circle cx="430.93" cy="131.43" r="1.25" fill="#404040"/>
<circle cx="433.11" cy="131.58" r="1.25" fill="#404040"/>
<circle cx="436.07" cy="131.66" r="1.25" fill="#404040"/>
<circle cx="438.41" cy="131.78" r="1.25" fill="#404040"/>
<circle cx="441.26" cy="131.79" r="1.25" fill="#404040"/>
<circle cx="443.38" cy="131.51" r="1.25" fill="#404040"/>
<circle cx="446.14" cy="131.56" r="1.25" fill="#404040"/>
<circle cx="448.84" cy="131.25" r="1.25" fill="#404040"/>
<circle cx="451.32" cy="131.17" r="1.25" fill="#404040"/>
<polyline points="426.02,133.70 429.14,134.16 432.27,134.47 435.39,134.83 438.52,135.24 441.64,135.04 444.77,134.44 447.89,134.12 451.02,133.70" fill="none" stroke="#797979" stroke-width="1.6" stroke-linecap="round" stroke-linejoin="round"/>
<circle cx="426.02" cy="133.64" r="1.25" fill="#404040"/>
<circle cx="428.47" cy="134.16" r="1.25" fill="#404040"/>
<circle cx="431.32" cy="134.32" r="1.25" fill="#404040"/>
<circle cx="433.34" cy="134.73" r="1.25" fill="#404040"/>
<circle cx="435.84" cy="134.76" r="1.25" fill="#404040"/>
<circle cx="438.76" cy="135.24" r="1.25" fill="#404040"/>
<circle cx="441.21" cy="134.92" r="1.25" fill="#404040"/>
<circle cx="443.75" cy="134.61" r="1.25" fill="#404040"/>
<circle cx="445.82" cy="134.17" r="1.25" fill="#404040"/>
<circle cx="448.55" cy="134.07" r="1.25" fill="#404040"/>
<circle cx="451.02" cy="133.86" r="1.25" fill="#404040"/>
<polyline points="426.02,136.70 429.14,136.93 432.27,137.44 435.39,137.71 438.52,138.10 441.64,137.64 444.77,137.33 447.89,137.06 451.02,136.70" fill="none" stroke="#797979" stroke-width="1.6" stroke-linecap="round" stroke-linejoin="round"/>
<circle cx="426.02" cy="136.87" r="1.25" fill="#404040"/>
<circle cx="428.29" cy="136.95" r="1.25" fill="#404040"/>
<circle cx="431.20" cy="137.47" r="1.25" fill="#404040"/>
<circle cx="433.34" cy="137.37" r="1.25" fill="#404040"/>
<circle cx="436.29" cy="138.04" r="1.25" fill="#404040"/>
<circle cx="438.51" cy="137.92" r="1.25" fill="#404040"/>
<circle cx="441.28" cy="137.75" r="1.25" fill="#404040"/>
<circle cx="443.76" cy="137.56" r="1.25" fill="#404040"/>
<circle cx="446.21" cy="137.10" r="1.25" fill="#404040"/>
<circle cx="448.69" cy="136.85" r="1.25" fill="#404040"/>
<circle cx="451.02" cy="136.66" r="1.25" fill="#404040"/>
<circle cx="426.22" cy="139.57" r="1.25" fill="#404040"/>
<circle cx="429.58" cy="139.57" r="1.25" fill="#404040"/>
<circle cx="431.15" cy="139.83" r="1.25" fill="#404040"/>
<circle cx="434.45" cy="140.15" r="1.25" fill="#404040"/>
<circle cx="436.43" cy="140.27" r="1.25" fill="#404040"/>
<circle cx="440.32" cy="140.62" r="1.25" fill="#404040"/>
<circle cx="441.74" cy="140.32" r="1.25" fill="#404040"/>
<circle cx="445.85" cy="139.65" r="1.25" fill="#404040"/>
<circle cx="448.73" cy="139.41" r="1.25" fill="#404040"/>
<circle cx="450.82" cy="139.45" r="1.25" fill="#404040"/>
<polyline points="426.22,141.70 429.29,142.09 432.37,142.49 435.44,142.77 438.52,143.18 441.59,142.85 444.67,142.43 447.75,142.12 450.82,141.70" fill="none" stroke="#797979" stroke-width="1.6" stroke-linecap="round" stroke-linejoin="round"/>
<circle cx="426.22" cy="141.68" r="1.25" fill="#404040"/>
<circle cx="428.64" cy="141.80" r="1.25" fill="#404040"/>
<circle cx="431.21" cy="142.30" r="1.25" fill="#404040"/>
<circle cx="433.44" cy="142.69" r="1.25" fill="#404040"/>
<circle cx="436.23" cy="142.90" r="1.25" fill="#404040"/>
<circle cx="438.33" cy="143.17" r="1.25" fill="#404040"/>
<circle cx="440.74" cy="142.78" r="1.25" fill="#404040"/>
<circle cx="443.40" cy="142.44" r="1.25" fill="#404040"/>
<circle cx="445.87" cy="142.31" r="1.25" fill="#404040"/>
<circle cx="448.08" cy="142.09" r="1.25" fill="#404040"/>
<circle cx="450.82" cy="141.53" r="1.25" fill="#404040"/>
<polyline points="426.02,144.70 429.14,145.20 432.27,145.63 435.39,145.98 438.52,146.27 441.64,145.98 444.77,145.51 447.89,145.26 451.02,144.70" fill="none" stroke="#797979" stroke-width="1.6" stroke-linecap="round" stroke-linejoin="round"/>
<circle cx="426.02" cy="144.55" r="1.25" fill="#404040"/>
<circle cx="428.73" cy="145.27" r="1.25" fill="#404040"/>
<circle cx="431.16" cy="145.52" r="1.25" fill="#404040"/>
<circle cx="433.34" cy="145.89" r="1.25" fill="#404040"/>
<circle cx="436.02" cy="146.24" r="1.25" fill="#404040"/>
<circle cx="438.77" cy="146.23" r="1.25" fill="#404040"/>
<circle cx="441.19" cy="146.21" r="1.25" fill="#404040"/>
<circle cx="443.26" cy="145.70" r="1.25" fill="#404040"/>
<circle cx="446.17" cy="145.22" r="1.25" fill="#404040"/>
<circle cx="448.76" cy="144.92" r="1.25" fill="#404040"/>
<circle cx="451.02" cy="144.83" r="1.25" fill="#404040"/>
<polyline points="426.02,147.30 429.14,147.62 432.27,148.15 435.39,148.70 438.52,148.91 441.64,148.50 444.77,148.15 447.89,147.67 451.02,147.30" fill="none" stroke="#797979" stroke-width="1.6" stroke-linecap="round" stroke-linejoin="round"/>
<circle cx="426.02" cy="147.11" r="1.25" fill="#404040"/>
<circle cx="428.33" cy="147.48" r="1.25" fill="#404040"/>
<circle cx="431.28" cy="148.09" r="1.25" fill="#404040"/>
<circle cx="433.76" cy="148.22" r="1.25" fill="#404040"/>
<circle cx="436.19" cy="148.53" r="1.25" fill="#404040"/>
<circle cx="438.54" cy="149.05" r="1.25" fill="#404040"/>
<circle cx="440.94" cy="148.82" r="1.25" fill="#404040"/>
<circle cx="443.55" cy="148.35" r="1.25" fill="#404040"/>
<circle cx="446.25" cy="147.79" r="1.25" fill="#404040"/>
<circle cx="448.82" cy="147.65" r="1.25" fill="#404040"/>
<circle cx="451.02" cy="147.26" r="1.25" fill="#404040"/>
<polyline points="427.02,150.30 429.89,150.81 432.77,151.08 435.64,151.72 438.52,152.02 441.39,151.53 444.27,151.23 447.14,150.71 450.02,150.30" fill="none" stroke="#797979" stroke-width="1.6" stroke-linecap="round" stroke-linejoin="round"/>
<circle cx="427.02" cy="150.17" r="1.25" fill="#404040"/>
<circle cx="429.72" cy="150.52" r="1.25" fill="#404040"/>
<circle cx="432.32" cy="150.99" r="1.25" fill="#404040"/>
<circle cx="434.77" cy="151.64" r="1.25" fill="#404040"/>
<circle cx="437.29" cy="151.88" r="1.25" fill="#404040"/>
<circle cx="439.69" cy="151.63" r="1.25" fill="#404040"/>
<circle cx="442.07" cy="151.33" r="1.25" fill="#404040"/>
<circle cx="444.98" cy="151.02" r="1.25" fill="#404040"/>
<circle cx="447.47" cy="150.83" r="1.25" fill="#404040"/>
<circle cx="450.02" cy="150.15" r="1.25" fill="#404040"/>
<circle cx="434.52" cy="154.50" r="1.3" fill="#404040"/>
<circle cx="443.52" cy="154.50" r="1.3" fill="#404040"/>
<circle cx="437.52" cy="156.60" r="1.3" fill="#404040"/>
<circle cx="440.32" cy="156.60" r="1.3" fill="#404040"/>
<circle cx="435.82" cy="159.20" r="1.3" fill="#404040"/>
<circle cx="441.72" cy="159.20" r="1.3" fill="#404040"/>
<circle cx="438.92" cy="162.10" r="1.3" fill="#404040"/>
<circle cx="470.46" cy="95.80" r="1.3" fill="#404040"/>
<circle cx="471.96" cy="97.20" r="1.3" fill="#404040"/>
<circle cx="468.86" cy="99.30" r="1.3" fill="#404040"/>
<circle cx="470.46" cy="103.70" r="1.3" fill="#404040"/>
<circle cx="462.96" cy="106.50" r="1.3" fill="#404040"/>
<circle cx="466.06" cy="106.50" r="1.3" fill="#404040"/>
<circle cx="474.66" cy="106.50" r="1.3" fill="#404040"/>
<circle cx="477.76" cy="106.50" r="1.3" fill="#404040"/>
<circle cx="469.16" cy="108.60" r="1.3" fill="#404040"/>
<circle cx="472.26" cy="108.60" r="1.3" fill="#404040"/>
<polyline points="457.96,109.60 461.08,110.07 464.21,110.75 467.33,111.11 470.46,111.65 473.58,111.21 476.71,110.58 479.83,110.11 482.96,109.60" fill="none" stroke="#797979" stroke-width="1.6" stroke-linecap="round" stroke-linejoin="round"/>
<circle cx="457.96" cy="109.49" r="1.25" fill="#404040"/>
<circle cx="460.51" cy="110.08" r="1.25" fill="#404040"/>
<circle cx="462.78" cy="110.50" r="1.25" fill="#404040"/>
<circle cx="465.44" cy="110.77" r="1.25" fill="#404040"/>
<circle cx="468.22" cy="111.30" r="1.25" fill="#404040"/>
<circle cx="470.25" cy="111.60" r="1.25" fill="#404040"/>
<circle cx="473.04" cy="111.49" r="1.25" fill="#404040"/>
<circle cx="475.63" cy="110.85" r="1.25" fill="#404040"/>
<circle cx="477.82" cy="110.31" r="1.25" fill="#404040"/>
<circle cx="480.55" cy="110.05" r="1.25" fill="#404040"/>
<circle cx="482.96" cy="109.54" r="1.25" fill="#404040"/>
<circle cx="458.96" cy="113.27" r="1.25" fill="#404040"/>
<circle cx="461.41" cy="113.89" r="1.25" fill="#404040"/>
<circle cx="464.49" cy="114.13" r="1.25" fill="#404040"/>
<circle cx="467.35" cy="114.58" r="1.25" fill="#404040"/>
<circle cx="469.24" cy="115.12" r="1.25" fill="#404040"/>
<circle cx="471.27" cy="115.02" r="1.25" fill="#404040"/>
<circle cx="474.79" cy="114.33" r="1.25" fill="#404040"/>
<circle cx="476.94" cy="114.38" r="1.25" fill="#404040"/>
<circle cx="478.76" cy="113.66" r="1.25" fill="#404040"/>
<circle cx="481.96" cy="113.25" r="1.25" fill="#404040"/>
<circle cx="459.96" cy="115.70" r="1.25" fill="#404040"/>
<circle cx="462.85" cy="116.46" r="1.25" fill="#404040"/>
<circle cx="464.61" cy="116.58" r="1.25" fill="#404040"/>
<circle cx="467.47" cy="117.05" r="1.25" fill="#404040"/>
<circle cx="471.18" cy="117.89" r="1.25" fill="#404040"/>
<circle cx="473.48" cy="117.02" r="1.25" fill="#404040"/>
<circle cx="476.34" cy="116.79" r="1.25" fill="#404040"/>
<circle cx="478.27" cy="116.38" r="1.25" fill="#404040"/>
<circle cx="480.96" cy="115.68" r="1.25" fill="#404040"/>
<circle cx="461.46" cy="118.26" r="1.25" fill="#404040"/>
<circle cx="463.32" cy="118.68" r="1.25" fill="#404040"/>
<circle cx="465.77" cy="119.28" r="1.25" fill="#404040"/>
<circle cx="469.62" cy="120.31" r="1.25" fill="#404040"/>
<circle cx="472.37" cy="120.08" r="1.25" fill="#404040"/>
<circle cx="473.90" cy="119.66" r="1.25" fill="#404040"/>
<circle cx="476.77" cy="119.14" r="1.25" fill="#404040"/>
<circle cx="479.46" cy="118.41" r="1.25" fill="#404040"/>
<circle cx="462.96" cy="120.98" r="1.25" fill="#404040"/>
<circle cx="465.71" cy="121.99" r="1.25" fill="#404040"/>
<circle cx="467.46" cy="122.37" r="1.25" fill="#404040"/>
<circle cx="469.61" cy="122.58" r="1.25" fill="#404040"/>
<circle cx="472.50" cy="122.53" r="1.25" fill="#404040"/>
<circle cx="476.24" cy="121.64" r="1.25" fill="#404040"/>
<circle cx="477.96" cy="121.01" r="1.25" fill="#404040"/>
<circle cx="466.06" cy="125.20" r="1.3" fill="#404040"/>
<circle cx="468.96" cy="125.20" r="1.3" fill="#404040"/>
<circle cx="471.96" cy="125.20" r="1.3" fill="#404040"/>
<circle cx="474.86" cy="125.20" r="1.3" fill="#404040"/>
<circle cx="468.96" cy="127.40" r="1.3" fill="#404040"/>
<circle cx="471.96" cy="127.40" r="1.3" fill="#404040"/>
<polyline points="457.46,129.20 460.71,129.46 463.96,129.45 467.21,129.57 470.46,129.92 473.71,129.69 476.96,129.56 480.21,129.40 483.46,129.20" fill="none" stroke="#797979" stroke-width="1.6" stroke-linecap="round" stroke-linejoin="round"/>
<circle cx="457.46" cy="129.39" r="1.25" fill="#404040"/>
<circle cx="460.04" cy="129.46" r="1.25" fill="#404040"/>
<circle cx="462.78" cy="129.59" r="1.25" fill="#404040"/>
<circle cx="465.22" cy="129.65" r="1.25" fill="#404040"/>
<circle cx="467.90" cy="129.61" r="1.25" fill="#404040"/>
<circle cx="470.29" cy="129.84" r="1.25" fill="#404040"/>
<circle cx="472.81" cy="129.86" r="1.25" fill="#404040"/>
<circle cx="475.45" cy="129.38" r="1.25" fill="#404040"/>
<circle cx="478.02" cy="129.62" r="1.25" fill="#404040"/>
<circle cx="480.77" cy="129.18" r="1.25" fill="#404040"/>
<circle cx="483.46" cy="129.01" r="1.25" fill="#404040"/>
<polyline points="457.96,131.70 461.08,131.76 464.21,132.16 467.33,132.34 470.46,132.56 473.58,132.37 476.71,131.97 479.83,131.93 482.96,131.70" fill="none" stroke="#797979" stroke-width="1.6" stroke-linecap="round" stroke-linejoin="round"/>
<circle cx="457.96" cy="131.65" r="1.25" fill="#404040"/>
<circle cx="460.65" cy="132.00" r="1.25" fill="#404040"/>
<circle cx="463.19" cy="131.86" r="1.25" fill="#404040"/>
<circle cx="465.68" cy="132.36" r="1.25" fill="#404040"/>
<circle cx="468.23" cy="132.20" r="1.25" fill="#404040"/>
<circle cx="470.28" cy="132.33" r="1.25" fill="#404040"/>
<circle cx="472.68" cy="132.50" r="1.25" fill="#404040"/>
<circle cx="475.65" cy="132.22" r="1.25" fill="#404040"/>
<circle cx="478.16" cy="132.06" r="1.25" fill="#404040"/>
<circle cx="480.33" cy="131.71" r="1.25" fill="#404040"/>
<circle cx="482.96" cy="131.54" r="1.25" fill="#404040"/>
<circle cx="457.96" cy="135.73" r="1.25" fill="#404040"/>
<circle cx="460.16" cy="135.77" r="1.25" fill="#404040"/>
<circle cx="463.37" cy="136.01" r="1.25" fill="#404040"/>
<circle cx="465.82" cy="136.43" r="1.25" fill="#404040"/>
<circle cx="469.49" cy="136.92" r="1.25" fill="#404040"/>
<circle cx="471.50" cy="137.21" r="1.25" fill="#404040"/>
<circle cx="474.63" cy="136.77" r="1.25" fill="#404040"/>
<circle cx="477.63" cy="136.00" r="1.25" fill="#404040"/>
<circle cx="480.01" cy="135.92" r="1.25" fill="#404040"/>
<circle cx="482.96" cy="135.74" r="1.25" fill="#404040"/>
<polyline points="457.96,139.50 461.08,139.93 464.21,140.51 467.33,140.94 470.46,141.31 473.58,141.03 476.71,140.33 479.83,140.07 482.96,139.50" fill="none" stroke="#797979" stroke-width="1.6" stroke-linecap="round" stroke-linejoin="round"/>
<circle cx="457.96" cy="139.37" r="1.25" fill="#404040"/>
<circle cx="460.16" cy="139.72" r="1.25" fill="#404040"/>
<circle cx="463.12" cy="140.48" r="1.25" fill="#404040"/>
<circle cx="465.16" cy="140.59" r="1.25" fill="#404040"/>
<circle cx="467.95" cy="141.14" r="1.25" fill="#404040"/>
<circle cx="470.27" cy="141.37" r="1.25" fill="#404040"/>
<circle cx="472.87" cy="141.17" r="1.25" fill="#404040"/>
<circle cx="475.32" cy="140.84" r="1.25" fill="#404040"/>
<circle cx="477.83" cy="140.17" r="1.25" fill="#404040"/>
<circle cx="480.58" cy="139.86" r="1.25" fill="#404040"/>
<circle cx="482.96" cy="139.34" r="1.25" fill="#404040"/>
<circle cx="459.96" cy="142.27" r="1.25" fill="#404040"/>
<circle cx="462.08" cy="142.95" r="1.25" fill="#404040"/>
<circle cx="466.37" cy="144.18" r="1.25" fill="#404040"/>
<circle cx="469.23" cy="144.78" r="1.25" fill="#404040"/>
<circle cx="471.75" cy="144.78" r="1.25" fill="#404040"/>
<circle cx="475.78" cy="143.47" r="1.25" fill="#404040"/>
<circle cx="478.78" cy="142.59" r="1.25" fill="#404040"/>
<circle cx="480.96" cy="142.05" r="1.25" fill="#404040"/>
<polyline points="457.96,146.10 461.08,146.58 464.21,147.32 467.33,147.75 470.46,148.26 473.58,147.87 476.71,147.12 479.83,146.64 482.96,146.10" fill="none" stroke="#797979" stroke-width="1.6" stroke-linecap="round" stroke-linejoin="round"/>
<circle cx="457.96" cy="146.11" r="1.25" fill="#404040"/>
<circle cx="460.61" cy="146.67" r="1.25" fill="#404040"/>
<circle cx="463.05" cy="146.93" r="1.25" fill="#404040"/>
<circle cx="465.36" cy="147.26" r="1.25" fill="#404040"/>
<circle cx="468.17" cy="147.96" r="1.25" fill="#404040"/>
<circle cx="470.61" cy="148.14" r="1.25" fill="#404040"/>
<circle cx="472.92" cy="147.98" r="1.25" fill="#404040"/>
<circle cx="475.51" cy="147.26" r="1.25" fill="#404040"/>
<circle cx="477.94" cy="147.14" r="1.25" fill="#404040"/>
<circle cx="480.30" cy="146.44" r="1.25" fill="#404040"/>
<circle cx="482.96" cy="146.02" r="1.25" fill="#404040"/>
<polyline points="457.96,149.90 461.08,150.54 464.21,151.15 467.33,151.52 470.46,152.10 473.58,151.55 476.71,151.00 479.83,150.48 482.96,149.90" fill="none" stroke="#797979" stroke-width="1.6" stroke-linecap="round" stroke-linejoin="round"/>
<circle cx="457.96" cy="149.76" r="1.25" fill="#404040"/>
<circle cx="460.36" cy="150.22" r="1.25" fill="#404040"/>
<circle cx="463.25" cy="150.96" r="1.25" fill="#404040"/>
<circle cx="465.22" cy="151.42" r="1.25" fill="#404040"/>
<circle cx="467.72" cy="151.65" r="1.25" fill="#404040"/>
<circle cx="470.75" cy="152.26" r="1.25" fill="#404040"/>
<circle cx="473.10" cy="151.69" r="1.25" fill="#404040"/>
<circle cx="475.28" cy="151.37" r="1.25" fill="#404040"/>
<circle cx="477.72" cy="150.75" r="1.25" fill="#404040"/>
<circle cx="480.39" cy="150.19" r="1.25" fill="#404040"/>
<circle cx="482.96" cy="149.86" r="1.25" fill="#404040"/>
<circle cx="466.16" cy="154.80" r="1.3" fill="#404040"/>
<circle cx="476.86" cy="154.80" r="1.3" fill="#404040"/>
<circle cx="468.96" cy="156.50" r="1.3" fill="#404040"/>
<circle cx="473.36" cy="157.80" r="1.3" fill="#404040"/>
<circle cx="472.16" cy="159.30" r="1.3" fill="#404040"/>
<circle cx="468.96" cy="161.90" r="1.3" fill="#404040"/>
<circle cx="497.90" cy="140.40" r="1.3" fill="#888888"/>
<circle cx="505.60" cy="140.40" r="1.3" fill="#888888"/>
<circle cx="500.20" cy="142.40" r="1.3" fill="#888888"/>
<circle cx="502.60" cy="142.40" r="1.3" fill="#888888"/>
<circle cx="501.40" cy="145.40" r="1.3" fill="#888888"/>
<circle cx="505.60" cy="145.40" r="1.3" fill="#888888"/>
<circle cx="500.80" cy="147.80" r="1.3" fill="#888888"/>
<circle cx="503.80" cy="149.90" r="1.3" fill="#888888"/>
<circle cx="499.60" cy="153.10" r="1.3" fill="#888888"/>
<circle cx="502.60" cy="153.10" r="1.3" fill="#888888"/>
<circle cx="505.60" cy="153.10" r="1.3" fill="#888888"/>
<circle cx="502.00" cy="155.10" r="1.3" fill="#888888"/>
<circle cx="510.90" cy="155.10" r="1.3" fill="#888888"/>
<circle cx="492.40" cy="157.50" r="1.3" fill="#888888"/>
<circle cx="496.40" cy="157.50" r="1.3" fill="#888888"/>
<circle cx="499.40" cy="157.50" r="1.3" fill="#888888"/>
<circle cx="502.40" cy="157.50" r="1.3" fill="#888888"/>
<circle cx="505.40" cy="157.50" r="1.3" fill="#888888"/>
<circle cx="508.40" cy="157.50" r="1.3" fill="#888888"/>
<circle cx="492.07" cy="159.60" r="1.3" fill="#888888"/>
<circle cx="495.02" cy="159.60" r="1.3" fill="#888888"/>
<circle cx="497.97" cy="159.60" r="1.3" fill="#888888"/>
<circle cx="500.92" cy="159.60" r="1.3" fill="#888888"/>
<circle cx="503.88" cy="159.60" r="1.3" fill="#888888"/>
<circle cx="506.82" cy="159.60" r="1.3" fill="#888888"/>
<circle cx="509.77" cy="159.60" r="1.3" fill="#888888"/>
<circle cx="512.73" cy="159.60" r="1.3" fill="#888888"/>
<polyline points="489.90,160.60 493.02,161.19 496.15,161.66 499.27,162.10 502.40,162.64 505.52,162.09 508.65,161.49 511.77,161.13 514.90,160.60" fill="none" stroke="#ababab" stroke-width="1.6" stroke-linecap="round" stroke-linejoin="round"/>
<circle cx="489.90" cy="160.56" r="1.25" fill="#888888"/>
<circle cx="492.54" cy="161.19" r="1.25" fill="#888888"/>
<circle cx="494.86" cy="161.42" r="1.25" fill="#888888"/>
<circle cx="497.55" cy="161.79" r="1.25" fill="#888888"/>
<circle cx="499.74" cy="162.26" r="1.25" fill="#888888"/>
<circle cx="502.63" cy="162.67" r="1.25" fill="#888888"/>
<circle cx="505.02" cy="162.32" r="1.25" fill="#888888"/>
<circle cx="507.51" cy="161.84" r="1.25" fill="#888888"/>
<circle cx="509.87" cy="161.33" r="1.25" fill="#888888"/>
<circle cx="512.48" cy="160.83" r="1.25" fill="#888888"/>
<circle cx="514.90" cy="160.57" r="1.25" fill="#888888"/>
<polyline points="491.90,163.00 494.52,163.58 497.15,164.06 499.77,164.54 502.40,164.93 505.02,164.48 507.65,163.99 510.27,163.54 512.90,163.00" fill="none" stroke="#ababab" stroke-width="1.6" stroke-linecap="round" stroke-linejoin="round"/>
<circle cx="491.90" cy="162.96" r="1.25" fill="#888888"/>
<circle cx="494.63" cy="163.69" r="1.25" fill="#888888"/>
<circle cx="496.96" cy="164.03" r="1.25" fill="#888888"/>
<circle cx="499.94" cy="164.49" r="1.25" fill="#888888"/>
<circle cx="502.39" cy="165.19" r="1.25" fill="#888888"/>
<circle cx="504.75" cy="164.57" r="1.25" fill="#888888"/>
<circle cx="507.45" cy="164.15" r="1.25" fill="#888888"/>
<circle cx="510.54" cy="163.46" r="1.25" fill="#888888"/>
<circle cx="512.90" cy="162.84" r="1.25" fill="#888888"/>
<circle cx="497.90" cy="167.90" r="1.3" fill="#888888"/>
<circle cx="503.80" cy="167.90" r="1.3" fill="#888888"/>
<circle cx="506.80" cy="167.90" r="1.3" fill="#888888"/>
<circle cx="500.80" cy="170.90" r="1.3" fill="#888888"/>
<circle cx="65.50" cy="319.70" r="1.3" fill="#b4b4b4"/>
<circle cx="68.50" cy="319.70" r="1.3" fill="#b4b4b4"/>
<circle cx="67.40" cy="324.90" r="1.3" fill="#b4b4b4"/>
<circle cx="67.40" cy="333.00" r="1.3" fill="#b4b4b4"/>
<circle cx="64.10" cy="338.90" r="1.3" fill="#b4b4b4"/>
<circle cx="70.00" cy="338.90" r="1.3" fill="#b4b4b4"/>
<circle cx="67.90" cy="341.10" r="1.3" fill="#b4b4b4"/>
<circle cx="65.60" cy="343.40" r="1.3" fill="#b4b4b4"/>
<circle cx="68.90" cy="343.40" r="1.3" fill="#b4b4b4"/>
<circle cx="59.60" cy="347.10" r="1.3" fill="#b4b4b4"/>
<circle cx="73.70" cy="347.10" r="1.3" fill="#b4b4b4"/>
<circle cx="62.90" cy="349.30" r="1.3" fill="#b4b4b4"/>
<circle cx="65.90" cy="349.30" r="1.3" fill="#b4b4b4"/>
<circle cx="68.90" cy="349.30" r="1.3" fill="#b4b4b4"/>
<circle cx="71.90" cy="349.30" r="1.3" fill="#b4b4b4"/>
<circle cx="61.40" cy="351.50" r="1.3" fill="#b4b4b4"/>
<circle cx="64.40" cy="351.50" r="1.3" fill="#b4b4b4"/>
<circle cx="67.40" cy="351.50" r="1.3" fill="#b4b4b4"/>
<circle cx="70.40" cy="351.50" r="1.3" fill="#b4b4b4"/>
<circle cx="73.40" cy="351.50" r="1.3" fill="#b4b4b4"/>
<circle cx="62.90" cy="353.70" r="1.3" fill="#b4b4b4"/>
<circle cx="65.90" cy="353.70" r="1.3" fill="#b4b4b4"/>
<circle cx="68.90" cy="353.70" r="1.3" fill="#b4b4b4"/>
<circle cx="71.90" cy="353.70" r="1.3" fill="#b4b4b4"/>
<circle cx="62.40" cy="356.00" r="1.3" fill="#b4b4b4"/>
<circle cx="67.40" cy="356.00" r="1.3" fill="#b4b4b4"/>
<circle cx="72.40" cy="356.00" r="1.3" fill="#b4b4b4"/>
<circle cx="63.40" cy="358.20" r="1.3" fill="#b4b4b4"/>
<circle cx="66.40" cy="358.20" r="1.3" fill="#b4b4b4"/>
<circle cx="69.40" cy="358.20" r="1.3" fill="#b4b4b4"/>
<circle cx="64.40" cy="360.40" r="1.3" fill="#b4b4b4"/>
<circle cx="71.90" cy="360.40" r="1.3" fill="#b4b4b4"/>
<circle cx="73.40" cy="360.40" r="1.3" fill="#b4b4b4"/>
<circle cx="62.40" cy="363.00" r="1.3" fill="#b4b4b4"/>
<circle cx="65.40" cy="363.00" r="1.3" fill="#b4b4b4"/>
<circle cx="69.40" cy="363.00" r="1.3" fill="#b4b4b4"/>
<circle cx="62.40" cy="365.60" r="1.3" fill="#b4b4b4"/>
<circle cx="65.40" cy="365.60" r="1.3" fill="#b4b4b4"/>
<circle cx="68.40" cy="365.60" r="1.3" fill="#b4b4b4"/>
<circle cx="71.40" cy="365.60" r="1.3" fill="#b4b4b4"/>
<circle cx="65.40" cy="368.50" r="1.3" fill="#b4b4b4"/>
<circle cx="68.40" cy="368.50" r="1.3" fill="#b4b4b4"/>
<circle cx="67.40" cy="371.90" r="1.3" fill="#b4b4b4"/>
<circle cx="97.40" cy="338.30" r="1.3" fill="#333333"/>
<circle cx="100.40" cy="338.30" r="1.3" fill="#333333"/>
<circle cx="87.30" cy="340.70" r="1.3" fill="#333333"/>
<circle cx="108.70" cy="340.70" r="1.3" fill="#333333"/>
<circle cx="89.70" cy="342.00" r="1.3" fill="#333333"/>
<circle cx="95.00" cy="342.00" r="1.3" fill="#333333"/>
<circle cx="97.40" cy="342.00" r="1.3" fill="#333333"/>
<circle cx="99.80" cy="342.00" r="1.3" fill="#333333"/>
<circle cx="102.80" cy="342.00" r="1.3" fill="#333333"/>
<circle cx="106.30" cy="342.00" r="1.3" fill="#333333"/>
<circle cx="89.20" cy="343.80" r="1.3" fill="#333333"/>
<circle cx="92.70" cy="343.80" r="1.3" fill="#333333"/>
<circle cx="101.00" cy="343.80" r="1.3" fill="#333333"/>
<circle cx="104.50" cy="343.80" r="1.3" fill="#333333"/>
<circle cx="107.50" cy="343.80" r="1.3" fill="#333333"/>
<circle cx="92.20" cy="345.60" r="1.3" fill="#333333"/>
<circle cx="95.70" cy="345.60" r="1.3" fill="#333333"/>
<circle cx="99.20" cy="345.60" r="1.3" fill="#333333"/>
<circle cx="102.70" cy="345.60" r="1.3" fill="#333333"/>
<circle cx="93.20" cy="347.80" r="1.3" fill="#333333"/>
<circle cx="98.60" cy="347.80" r="1.3" fill="#333333"/>
<circle cx="93.20" cy="349.40" r="1.3" fill="#333333"/>
<circle cx="96.20" cy="349.40" r="1.3" fill="#333333"/>
<circle cx="99.20" cy="349.40" r="1.3" fill="#333333"/>
<circle cx="102.20" cy="349.40" r="1.3" fill="#333333"/>
<circle cx="105.20" cy="349.40" r="1.3" fill="#333333"/>
<circle cx="94.70" cy="350.80" r="1.3" fill="#333333"/>
<circle cx="97.70" cy="350.80" r="1.3" fill="#333333"/>
<circle cx="100.70" cy="350.80" r="1.3" fill="#333333"/>
<circle cx="103.70" cy="350.80" r="1.3" fill="#333333"/>
<circle cx="106.70" cy="350.80" r="1.3" fill="#333333"/>
<circle cx="96.20" cy="352.00" r="1.3" fill="#333333"/>
<circle cx="99.20" cy="352.00" r="1.3" fill="#333333"/>
<circle cx="102.70" cy="352.00" r="1.3" fill="#333333"/>
<circle cx="88.50" cy="354.90" r="1.3" fill="#333333"/>
<circle cx="91.50" cy="354.90" r="1.3" fill="#333333"/>
<circle cx="99.20" cy="354.90" r="1.3" fill="#333333"/>
<circle cx="109.20" cy="354.90" r="1.3" fill="#333333"/>
<circle cx="93.20" cy="356.70" r="1.3" fill="#333333"/>
<circle cx="95.00" cy="356.70" r="1.3" fill="#333333"/>
<circle cx="101.50" cy="356.70" r="1.3" fill="#333333"/>
<circle cx="103.90" cy="356.70" r="1.3" fill="#333333"/>
<circle cx="106.20" cy="356.70" r="1.3" fill="#333333"/>
<circle cx="93.20" cy="358.40" r="1.3" fill="#333333"/>
<circle cx="96.20" cy="358.40" r="1.3" fill="#333333"/>
<circle cx="99.20" cy="358.40" r="1.3" fill="#333333"/>
<circle cx="102.70" cy="358.40" r="1.3" fill="#333333"/>
<circle cx="99.20" cy="360.80" r="1.3" fill="#333333"/>
<circle cx="96.20" cy="363.40" r="1.3" fill="#333333"/>
<circle cx="101.50" cy="363.40" r="1.3" fill="#333333"/>
<circle cx="99.20" cy="365.80" r="1.3" fill="#333333"/>
<circle cx="131.00" cy="321.20" r="1.3" fill="#888888"/>
<circle cx="131.00" cy="326.40" r="1.3" fill="#888888"/>
<circle cx="128.00" cy="330.00" r="1.3" fill="#888888"/>
<circle cx="131.00" cy="333.00" r="1.3" fill="#888888"/>
<circle cx="134.00" cy="333.00" r="1.3" fill="#888888"/>
<circle cx="129.50" cy="336.00" r="1.3" fill="#888888"/>
<circle cx="134.00" cy="336.00" r="1.3" fill="#888888"/>
<circle cx="131.70" cy="339.40" r="1.3" fill="#888888"/>
<circle cx="128.00" cy="341.40" r="1.3" fill="#888888"/>
<circle cx="128.00" cy="344.00" r="1.3" fill="#888888"/>
<circle cx="131.00" cy="344.00" r="1.3" fill="#888888"/>
<circle cx="134.00" cy="344.00" r="1.3" fill="#888888"/>
<circle cx="126.50" cy="345.60" r="1.3" fill="#888888"/>
<circle cx="129.50" cy="345.60" r="1.3" fill="#888888"/>
<circle cx="132.50" cy="345.60" r="1.3" fill="#888888"/>
<circle cx="135.50" cy="345.60" r="1.3" fill="#888888"/>
<circle cx="128.00" cy="347.40" r="1.3" fill="#888888"/>
<circle cx="131.00" cy="347.40" r="1.3" fill="#888888"/>
<circle cx="123.60" cy="350.80" r="1.3" fill="#888888"/>
<circle cx="125.80" cy="350.80" r="1.3" fill="#888888"/>
<circle cx="128.80" cy="350.80" r="1.3" fill="#888888"/>
<circle cx="136.20" cy="350.80" r="1.3" fill="#888888"/>
<circle cx="138.40" cy="350.80" r="1.3" fill="#888888"/>
<circle cx="140.00" cy="350.80" r="1.3" fill="#888888"/>
<circle cx="128.80" cy="353.70" r="1.3" fill="#888888"/>
<circle cx="131.70" cy="353.70" r="1.3" fill="#888888"/>
<circle cx="134.00" cy="353.70" r="1.3" fill="#888888"/>
<circle cx="128.00" cy="357.70" r="1.3" fill="#888888"/>
<circle cx="129.50" cy="357.70" r="1.3" fill="#888888"/>
<circle cx="129.50" cy="359.60" r="1.3" fill="#888888"/>
<circle cx="132.50" cy="361.10" r="1.3" fill="#888888"/>
<circle cx="131.00" cy="367.50" r="1.3" fill="#888888"/>
<circle cx="162.30" cy="331.30" r="1.3" fill="#4a4a4a"/>
<circle cx="159.40" cy="334.40" r="1.3" fill="#4a4a4a"/>
<circle cx="162.80" cy="334.40" r="1.3" fill="#4a4a4a"/>
<circle cx="165.60" cy="334.40" r="1.3" fill="#4a4a4a"/>
<circle cx="162.80" cy="335.40" r="1.3" fill="#4a4a4a"/>
<polyline points="149.80,335.60 153.05,336.17 156.30,336.71 159.55,337.32 162.80,337.80 166.05,337.29 169.30,336.80 172.55,336.16 175.80,335.60" fill="none" stroke="#4a4a4a" stroke-width="1.9" stroke-linecap="round" stroke-linejoin="round"/>
<polyline points="149.80,338.90 153.05,339.27 156.30,339.83 159.55,340.01 162.80,340.56 166.05,340.07 169.30,339.78 172.55,339.19 175.80,338.90" fill="none" stroke="#4a4a4a" stroke-width="1.9" stroke-linecap="round" stroke-linejoin="round"/>
<polyline points="149.80,341.60 153.05,342.10 156.30,342.26 159.55,342.52 162.80,342.93 166.05,342.62 169.30,342.15 172.55,341.93 175.80,341.60" fill="none" stroke="#808080" stroke-width="1.6" stroke-linecap="round" stroke-linejoin="round"/>
<circle cx="149.80" cy="341.57" r="1.25" fill="#4a4a4a"/>
<circle cx="152.52" cy="341.83" r="1.25" fill="#4a4a4a"/>
<circle cx="154.86" cy="342.03" r="1.25" fill="#4a4a4a"/>
<circle cx="157.74" cy="342.63" r="1.25" fill="#4a4a4a"/>
<circle cx="160.22" cy="342.61" r="1.25" fill="#4a4a4a"/>
<circle cx="162.98" cy="342.94" r="1.25" fill="#4a4a4a"/>
<circle cx="165.23" cy="342.59" r="1.25" fill="#4a4a4a"/>
<circle cx="168.17" cy="342.55" r="1.25" fill="#4a4a4a"/>
<circle cx="170.68" cy="342.14" r="1.25" fill="#4a4a4a"/>
<circle cx="173.24" cy="341.77" r="1.25" fill="#4a4a4a"/>
<circle cx="175.80" cy="341.79" r="1.25" fill="#4a4a4a"/>
<polyline points="149.80,343.90 153.05,344.26 156.30,344.74 159.55,345.20 162.80,345.59 166.05,345.09 169.30,344.64 172.55,344.31 175.80,343.90" fill="none" stroke="#4a4a4a" stroke-width="1.9" stroke-linecap="round" stroke-linejoin="round"/>
<circle cx="149.80" cy="346.31" r="1.25" fill="#4a4a4a"/>
<circle cx="152.72" cy="346.65" r="1.25" fill="#4a4a4a"/>
<circle cx="155.11" cy="346.79" r="1.25" fill="#4a4a4a"/>
<circle cx="156.69" cy="346.91" r="1.25" fill="#4a4a4a"/>
<circle cx="159.13" cy="347.06" r="1.25" fill="#4a4a4a"/>
<circle cx="160.80" cy="347.46" r="1.25" fill="#4a4a4a"/>
<circle cx="163.62" cy="347.31" r="1.25" fill="#4a4a4a"/>
<circle cx="166.02" cy="347.24" r="1.25" fill="#4a4a4a"/>
<circle cx="168.59" cy="347.12" r="1.25" fill="#4a4a4a"/>
<circle cx="171.34" cy="346.77" r="1.25" fill="#4a4a4a"/>
<circle cx="174.15" cy="346.80" r="1.25" fill="#4a4a4a"/>
<circle cx="175.80" cy="346.28" r="1.25" fill="#4a4a4a"/>
<polyline points="149.80,350.40 153.05,350.80 156.30,351.12 159.55,351.39 162.80,351.49 166.05,351.40 169.30,351.04 172.55,350.55 175.80,350.40" fill="none" stroke="#4a4a4a" stroke-width="1.9" stroke-linecap="round" stroke-linejoin="round"/>
<polyline points="149.80,352.40 153.05,352.65 156.30,353.34 159.55,353.65 162.80,353.93 166.05,353.48 169.30,353.09 172.55,352.72 175.80,352.40" fill="none" stroke="#808080" stroke-width="1.6" stroke-linecap="round" stroke-linejoin="round"/>
<circle cx="149.80" cy="352.51" r="1.25" fill="#4a4a4a"/>
<circle cx="152.31" cy="352.57" r="1.25" fill="#4a4a4a"/>
<circle cx="155.24" cy="353.19" r="1.25" fill="#4a4a4a"/>
<circle cx="157.40" cy="353.49" r="1.25" fill="#4a4a4a"/>
<circle cx="160.27" cy="353.80" r="1.25" fill="#4a4a4a"/>
<circle cx="162.90" cy="354.15" r="1.25" fill="#4a4a4a"/>
<circle cx="165.57" cy="353.79" r="1.25" fill="#4a4a4a"/>
<circle cx="167.82" cy="353.46" r="1.25" fill="#4a4a4a"/>
<circle cx="170.62" cy="353.13" r="1.25" fill="#4a4a4a"/>
<circle cx="173.16" cy="352.88" r="1.25" fill="#4a4a4a"/>
<circle cx="175.80" cy="352.42" r="1.25" fill="#4a4a4a"/>
<polyline points="149.80,354.60 153.05,354.98 156.30,355.42 159.55,355.84 162.80,356.40 166.05,355.82 169.30,355.49 172.55,354.94 175.80,354.60" fill="none" stroke="#4a4a4a" stroke-width="1.9" stroke-linecap="round" stroke-linejoin="round"/>
<polyline points="150.30,356.90 153.43,357.35 156.55,357.80 159.68,358.26 162.80,358.81 165.93,358.10 169.05,357.90 172.18,357.34 175.30,356.90" fill="none" stroke="#808080" stroke-width="1.6" stroke-linecap="round" stroke-linejoin="round"/>
<circle cx="150.30" cy="356.93" r="1.25" fill="#4a4a4a"/>
<circle cx="152.90" cy="357.41" r="1.25" fill="#4a4a4a"/>
<circle cx="155.22" cy="357.58" r="1.25" fill="#4a4a4a"/>
<circle cx="158.08" cy="357.85" r="1.25" fill="#4a4a4a"/>
<circle cx="160.38" cy="358.41" r="1.25" fill="#4a4a4a"/>
<circle cx="162.52" cy="358.70" r="1.25" fill="#4a4a4a"/>
<circle cx="165.41" cy="358.50" r="1.25" fill="#4a4a4a"/>
<circle cx="167.70" cy="358.19" r="1.25" fill="#4a4a4a"/>
<circle cx="170.31" cy="357.61" r="1.25" fill="#4a4a4a"/>
<circle cx="173.04" cy="357.04" r="1.25" fill="#4a4a4a"/>
<circle cx="175.30" cy="356.99" r="1.25" fill="#4a4a4a"/>
<polyline points="150.80,359.00 153.80,359.59 156.80,360.05 159.80,360.76 162.80,361.16 165.80,360.64 168.80,360.11 171.80,359.63 174.80,359.00" fill="none" stroke="#4a4a4a" stroke-width="1.9" stroke-linecap="round" stroke-linejoin="round"/>
<circle cx="154.80" cy="361.76" r="1.25" fill="#4a4a4a"/>
<circle cx="157.35" cy="362.34" r="1.25" fill="#4a4a4a"/>
<circle cx="160.23" cy="363.08" r="1.25" fill="#4a4a4a"/>
<circle cx="162.41" cy="363.49" r="1.25" fill="#4a4a4a"/>
<circle cx="165.29" cy="362.94" r="1.25" fill="#4a4a4a"/>
<circle cx="167.71" cy="362.48" r="1.25" fill="#4a4a4a"/>
<circle cx="170.80" cy="362.14" r="1.25" fill="#4a4a4a"/>
<circle cx="158.40" cy="365.00" r="1.3" fill="#4a4a4a"/>
<circle cx="166.90" cy="365.00" r="1.3" fill="#4a4a4a"/>
<circle cx="157.80" cy="366.90" r="1.3" fill="#4a4a4a"/>
<circle cx="161.00" cy="366.90" r="1.3" fill="#4a4a4a"/>
<circle cx="164.00" cy="366.90" r="1.3" fill="#4a4a4a"/>
<circle cx="194.00" cy="331.30" r="1.3" fill="#4a4a4a"/>
<circle cx="191.40" cy="334.40" r="1.3" fill="#4a4a4a"/>
<circle cx="194.00" cy="334.40" r="1.3" fill="#4a4a4a"/>
<circle cx="197.00" cy="334.40" r="1.3" fill="#4a4a4a"/>
<circle cx="182.10" cy="336.30" r="1.3" fill="#4a4a4a"/>
<circle cx="185.10" cy="336.30" r="1.3" fill="#4a4a4a"/>
<circle cx="187.60" cy="336.30" r="1.3" fill="#4a4a4a"/>
<circle cx="201.20" cy="336.30" r="1.3" fill="#4a4a4a"/>
<circle cx="204.10" cy="336.30" r="1.3" fill="#4a4a4a"/>
<circle cx="206.60" cy="336.30" r="1.3" fill="#4a4a4a"/>
<polyline points="181.60,337.50 184.85,337.90 188.10,338.29 191.35,338.50 194.60,338.85 197.85,338.49 201.10,338.23 204.35,337.89 207.60,337.50" fill="none" stroke="#4a4a4a" stroke-width="1.9" stroke-linecap="round" stroke-linejoin="round"/>
<circle cx="182.10" cy="340.04" r="1.25" fill="#4a4a4a"/>
<circle cx="183.80" cy="340.20" r="1.25" fill="#4a4a4a"/>
<circle cx="187.77" cy="340.56" r="1.25" fill="#4a4a4a"/>
<circle cx="188.81" cy="340.55" r="1.25" fill="#4a4a4a"/>
<circle cx="191.24" cy="340.77" r="1.25" fill="#4a4a4a"/>
<circle cx="195.34" cy="341.27" r="1.25" fill="#4a4a4a"/>
<circle cx="197.38" cy="341.13" r="1.25" fill="#4a4a4a"/>
<circle cx="200.32" cy="340.72" r="1.25" fill="#4a4a4a"/>
<circle cx="202.30" cy="340.50" r="1.25" fill="#4a4a4a"/>
<circle cx="204.94" cy="340.19" r="1.25" fill="#4a4a4a"/>
<circle cx="207.10" cy="339.99" r="1.25" fill="#4a4a4a"/>
<polyline points="181.60,342.20 184.85,342.46 188.10,342.95 191.35,343.24 194.60,343.68 197.85,343.13 201.10,342.80 204.35,342.41 207.60,342.20" fill="none" stroke="#4a4a4a" stroke-width="1.9" stroke-linecap="round" stroke-linejoin="round"/>
<polyline points="181.60,345.20 184.85,345.53 188.10,345.82 191.35,346.00 194.60,346.16 197.85,346.05 201.10,345.79 204.35,345.47 207.60,345.20" fill="none" stroke="#808080" stroke-width="1.6" stroke-linecap="round" stroke-linejoin="round"/>
<circle cx="181.60" cy="345.10" r="1.25" fill="#4a4a4a"/>
<circle cx="184.08" cy="345.36" r="1.25" fill="#4a4a4a"/>
<circle cx="186.69" cy="345.56" r="1.25" fill="#4a4a4a"/>
<circle cx="189.49" cy="345.98" r="1.25" fill="#4a4a4a"/>
<circle cx="191.73" cy="346.01" r="1.25" fill="#4a4a4a"/>
<circle cx="194.32" cy="346.03" r="1.25" fill="#4a4a4a"/>
<circle cx="197.39" cy="346.02" r="1.25" fill="#4a4a4a"/>
<circle cx="200.05" cy="345.76" r="1.25" fill="#4a4a4a"/>
<circle cx="202.11" cy="345.58" r="1.25" fill="#4a4a4a"/>
<circle cx="205.06" cy="345.57" r="1.25" fill="#4a4a4a"/>
<circle cx="207.60" cy="345.39" r="1.25" fill="#4a4a4a"/>
<polyline points="181.60,350.40 184.85,350.69 188.10,350.97 191.35,351.18 194.60,351.64 197.85,351.21 201.10,350.90 204.35,350.55 207.60,350.40" fill="none" stroke="#4a4a4a" stroke-width="1.9" stroke-linecap="round" stroke-linejoin="round"/>
<polyline points="181.60,352.40 184.85,352.65 188.10,353.26 191.35,353.49 194.60,354.14 197.85,353.48 201.10,353.31 204.35,352.69 207.60,352.40" fill="none" stroke="#808080" stroke-width="1.6" stroke-linecap="round" stroke-linejoin="round"/>
<circle cx="181.60" cy="352.21" r="1.25" fill="#4a4a4a"/>
<circle cx="184.33" cy="352.63" r="1.25" fill="#4a4a4a"/>
<circle cx="186.94" cy="352.93" r="1.25" fill="#4a4a4a"/>
<circle cx="189.13" cy="353.44" r="1.25" fill="#4a4a4a"/>
<circle cx="192.13" cy="353.84" r="1.25" fill="#4a4a4a"/>
<circle cx="194.74" cy="353.82" r="1.25" fill="#4a4a4a"/>
<circle cx="197.28" cy="353.75" r="1.25" fill="#4a4a4a"/>
<circle cx="199.78" cy="353.54" r="1.25" fill="#4a4a4a"/>
<circle cx="202.25" cy="353.24" r="1.25" fill="#4a4a4a"/>
<circle cx="205.13" cy="352.51" r="1.25" fill="#4a4a4a"/>
<circle cx="207.60" cy="352.21" r="1.25" fill="#4a4a4a"/>
<polyline points="181.60,354.80 184.85,355.30 188.10,355.80 191.35,356.02 194.60,356.54 197.85,356.22 201.10,355.60 204.35,355.36 207.60,354.80" fill="none" stroke="#4a4a4a" stroke-width="1.9" stroke-linecap="round" stroke-linejoin="round"/>
<circle cx="182.10" cy="356.89" r="1.25" fill="#4a4a4a"/>
<circle cx="183.83" cy="357.08" r="1.25" fill="#4a4a4a"/>
<circle cx="187.23" cy="357.61" r="1.25" fill="#4a4a4a"/>
<circle cx="189.91" cy="357.85" r="1.25" fill="#4a4a4a"/>
<circle cx="192.62" cy="358.35" r="1.25" fill="#4a4a4a"/>
<circle cx="194.85" cy="358.73" r="1.25" fill="#4a4a4a"/>
<circle cx="196.96" cy="358.30" r="1.25" fill="#4a4a4a"/>
<circle cx="200.10" cy="358.13" r="1.25" fill="#4a4a4a"/>
<circle cx="202.60" cy="357.58" r="1.25" fill="#4a4a4a"/>
<circle cx="204.24" cy="357.09" r="1.25" fill="#4a4a4a"/>
<circle cx="207.10" cy="357.14" r="1.25" fill="#4a4a4a"/>
<circle cx="182.10" cy="359.40" r="1.25" fill="#4a4a4a"/>
<circle cx="185.17" cy="359.93" r="1.25" fill="#4a4a4a"/>
<circle cx="187.29" cy="360.74" r="1.25" fill="#4a4a4a"/>
<circle cx="190.18" cy="361.23" r="1.25" fill="#4a4a4a"/>
<circle cx="191.77" cy="361.51" r="1.25" fill="#4a4a4a"/>
<circle cx="195.28" cy="361.98" r="1.25" fill="#4a4a4a"/>
<circle cx="197.42" cy="361.60" r="1.25" fill="#4a4a4a"/>
<circle cx="200.29" cy="361.03" r="1.25" fill="#4a4a4a"/>
<circle cx="201.72" cy="360.30" r="1.25" fill="#4a4a4a"/>
<circle cx="204.19" cy="359.94" r="1.25" fill="#4a4a4a"/>
<circle cx="207.10" cy="359.34" r="1.25" fill="#4a4a4a"/>
<circle cx="189.70" cy="365.00" r="1.3" fill="#4a4a4a"/>
<circle cx="192.00" cy="365.00" r="1.3" fill="#4a4a4a"/>
<circle cx="194.60" cy="365.00" r="1.3" fill="#4a4a4a"/>
<circle cx="197.00" cy="365.00" r="1.3" fill="#4a4a4a"/>
<circle cx="198.90" cy="365.00" r="1.3" fill="#4a4a4a"/>
<circle cx="192.00" cy="366.90" r="1.3" fill="#4a4a4a"/>
<circle cx="195.00" cy="366.90" r="1.3" fill="#4a4a4a"/>
<circle cx="226.00" cy="321.20" r="1.3" fill="#505050"/>
<circle cx="226.00" cy="326.40" r="1.3" fill="#505050"/>
<circle cx="227.40" cy="330.00" r="1.3" fill="#505050"/>
<circle cx="223.40" cy="332.60" r="1.3" fill="#505050"/>
<circle cx="224.90" cy="332.60" r="1.3" fill="#505050"/>
<circle cx="227.00" cy="336.00" r="1.3" fill="#505050"/>
<circle cx="228.60" cy="336.00" r="1.3" fill="#505050"/>
<circle cx="224.00" cy="339.40" r="1.3" fill="#505050"/>
<circle cx="227.70" cy="341.40" r="1.3" fill="#505050"/>
<circle cx="231.40" cy="341.40" r="1.3" fill="#505050"/>
<circle cx="213.90" cy="343.40" r="1.3" fill="#505050"/>
<circle cx="216.90" cy="343.40" r="1.3" fill="#505050"/>
<circle cx="219.90" cy="343.40" r="1.3" fill="#505050"/>
<circle cx="222.90" cy="343.40" r="1.3" fill="#505050"/>
<circle cx="225.90" cy="343.40" r="1.3" fill="#505050"/>
<circle cx="228.90" cy="343.40" r="1.3" fill="#505050"/>
<circle cx="231.90" cy="343.40" r="1.3" fill="#505050"/>
<circle cx="235.40" cy="343.40" r="1.3" fill="#505050"/>
<circle cx="238.40" cy="343.40" r="1.3" fill="#505050"/>
<circle cx="216.40" cy="345.60" r="1.3" fill="#505050"/>
<circle cx="219.40" cy="345.60" r="1.3" fill="#505050"/>
<circle cx="222.40" cy="345.60" r="1.3" fill="#505050"/>
<circle cx="225.40" cy="345.60" r="1.3" fill="#505050"/>
<circle cx="228.40" cy="345.60" r="1.3" fill="#505050"/>
<circle cx="231.40" cy="345.60" r="1.3" fill="#505050"/>
<circle cx="234.40" cy="345.60" r="1.3" fill="#505050"/>
<circle cx="237.40" cy="345.60" r="1.3" fill="#505050"/>
<circle cx="221.40" cy="347.80" r="1.3" fill="#505050"/>
<circle cx="224.40" cy="347.80" r="1.3" fill="#505050"/>
<circle cx="227.40" cy="347.80" r="1.3" fill="#505050"/>
<circle cx="230.40" cy="347.80" r="1.3" fill="#505050"/>
<circle cx="234.40" cy="347.80" r="1.3" fill="#505050"/>
<circle cx="220.40" cy="349.60" r="1.3" fill="#505050"/>
<circle cx="223.40" cy="349.60" r="1.3" fill="#505050"/>
<circle cx="226.40" cy="349.60" r="1.3" fill="#505050"/>
<circle cx="229.40" cy="349.60" r="1.3" fill="#505050"/>
<circle cx="232.40" cy="349.60" r="1.3" fill="#505050"/>
<circle cx="218.90" cy="351.00" r="1.3" fill="#505050"/>
<circle cx="221.90" cy="351.00" r="1.3" fill="#505050"/>
<circle cx="224.90" cy="351.00" r="1.3" fill="#505050"/>
<circle cx="227.90" cy="351.00" r="1.3" fill="#505050"/>
<circle cx="230.90" cy="351.00" r="1.3" fill="#505050"/>
<circle cx="233.90" cy="351.00" r="1.3" fill="#505050"/>
<circle cx="221.90" cy="352.50" r="1.3" fill="#505050"/>
<circle cx="224.90" cy="352.50" r="1.3" fill="#505050"/>
<circle cx="227.90" cy="352.50" r="1.3" fill="#505050"/>
<circle cx="230.90" cy="352.50" r="1.3" fill="#505050"/>
<circle cx="224.10" cy="354.80" r="1.3" fill="#505050"/>
<circle cx="227.80" cy="354.80" r="1.3" fill="#505050"/>
<circle cx="221.90" cy="358.90" r="1.3" fill="#505050"/>
<circle cx="225.40" cy="358.90" r="1.3" fill="#505050"/>
<circle cx="229.90" cy="358.90" r="1.3" fill="#505050"/>
<circle cx="224.10" cy="361.60" r="1.3" fill="#505050"/>
<circle cx="227.00" cy="361.60" r="1.3" fill="#505050"/>
<circle cx="218.90" cy="366.30" r="1.3" fill="#505050"/>
<circle cx="221.90" cy="366.30" r="1.3" fill="#505050"/>
<circle cx="224.80" cy="366.30" r="1.3" fill="#505050"/>
<circle cx="231.40" cy="366.30" r="1.3" fill="#505050"/>
<circle cx="234.40" cy="366.30" r="1.3" fill="#505050"/>
<circle cx="221.90" cy="369.00" r="1.3" fill="#505050"/>
<circle cx="229.20" cy="369.00" r="1.3" fill="#505050"/>
<circle cx="232.10" cy="369.00" r="1.3" fill="#505050"/>
<circle cx="224.10" cy="371.00" r="1.3" fill="#505050"/>
<circle cx="227.00" cy="371.00" r="1.3" fill="#505050"/>
<circle cx="224.10" cy="373.00" r="1.3" fill="#505050"/>
<circle cx="345.60" cy="364.50" r="1.3" fill="#a0a0a0"/>
<circle cx="339.70" cy="366.70" r="1.3" fill="#a0a0a0"/>
<circle cx="343.00" cy="366.70" r="1.3" fill="#a0a0a0"/>
<circle cx="341.20" cy="369.40" r="1.3" fill="#a0a0a0"/>
<circle cx="344.20" cy="369.40" r="1.3" fill="#a0a0a0"/>
<circle cx="333.70" cy="371.60" r="1.3" fill="#a0a0a0"/>
<circle cx="336.70" cy="371.60" r="1.3" fill="#a0a0a0"/>
<circle cx="339.70" cy="371.60" r="1.3" fill="#a0a0a0"/>
<circle cx="342.70" cy="371.60" r="1.3" fill="#a0a0a0"/>
<circle cx="345.70" cy="371.60" r="1.3" fill="#a0a0a0"/>
<circle cx="348.70" cy="371.60" r="1.3" fill="#a0a0a0"/>
<circle cx="351.70" cy="371.60" r="1.3" fill="#a0a0a0"/>
<circle cx="336.70" cy="373.40" r="1.3" fill="#a0a0a0"/>
<circle cx="339.70" cy="373.40" r="1.3" fill="#a0a0a0"/>
<circle cx="342.70" cy="373.40" r="1.3" fill="#a0a0a0"/>
<circle cx="345.70" cy="373.40" r="1.3" fill="#a0a0a0"/>
<circle cx="348.70" cy="373.40" r="1.3" fill="#a0a0a0"/>
<polyline points="330.20,375.60 333.32,376.09 336.45,376.52 339.57,376.66 342.70,377.30 345.82,376.89 348.95,376.51 352.07,376.02 355.20,375.60" fill="none" stroke="#bcbcbc" stroke-width="1.6" stroke-linecap="round" stroke-linejoin="round"/>
<circle cx="330.20" cy="375.51" r="1.25" fill="#a0a0a0"/>
<circle cx="332.91" cy="376.07" r="1.25" fill="#a0a0a0"/>
<circle cx="335.31" cy="376.42" r="1.25" fill="#a0a0a0"/>
<circle cx="337.61" cy="376.38" r="1.25" fill="#a0a0a0"/>
<circle cx="340.23" cy="377.00" r="1.25" fill="#a0a0a0"/>
<circle cx="342.52" cy="377.28" r="1.25" fill="#a0a0a0"/>
<circle cx="345.46" cy="376.74" r="1.25" fill="#a0a0a0"/>
<circle cx="347.76" cy="376.62" r="1.25" fill="#a0a0a0"/>
<circle cx="350.18" cy="376.13" r="1.25" fill="#a0a0a0"/>
<circle cx="352.55" cy="376.04" r="1.25" fill="#a0a0a0"/>
<circle cx="355.20" cy="375.72" r="1.25" fill="#a0a0a0"/>
<polyline points="333.20,377.70 335.57,378.06 337.95,378.33 340.32,378.92 342.70,379.28 345.07,378.74 347.45,378.47 349.82,378.19 352.20,377.70" fill="none" stroke="#bcbcbc" stroke-width="1.6" stroke-linecap="round" stroke-linejoin="round"/>
<circle cx="333.20" cy="377.85" r="1.25" fill="#a0a0a0"/>
<circle cx="335.59" cy="378.07" r="1.25" fill="#a0a0a0"/>
<circle cx="338.00" cy="378.33" r="1.25" fill="#a0a0a0"/>
<circle cx="340.14" cy="378.67" r="1.25" fill="#a0a0a0"/>
<circle cx="342.82" cy="379.13" r="1.25" fill="#a0a0a0"/>
<circle cx="345.11" cy="378.78" r="1.25" fill="#a0a0a0"/>
<circle cx="347.46" cy="378.31" r="1.25" fill="#a0a0a0"/>
<circle cx="349.55" cy="378.32" r="1.25" fill="#a0a0a0"/>
<circle cx="352.20" cy="377.65" r="1.25" fill="#a0a0a0"/>
<circle cx="374.64" cy="327.30" r="1.3" fill="#333333"/>
<circle cx="374.64" cy="344.40" r="1.3" fill="#333333"/>
<circle cx="375.94" cy="346.90" r="1.3" fill="#333333"/>
<circle cx="373.04" cy="350.10" r="1.3" fill="#333333"/>
<circle cx="374.64" cy="358.60" r="1.3" fill="#333333"/>
<circle cx="371.74" cy="363.00" r="1.3" fill="#333333"/>
<circle cx="374.34" cy="365.60" r="1.3" fill="#333333"/>
<circle cx="377.64" cy="365.60" r="1.3" fill="#333333"/>
<circle cx="369.94" cy="368.20" r="1.3" fill="#333333"/>
<circle cx="372.84" cy="368.20" r="1.3" fill="#333333"/>
<circle cx="378.74" cy="368.20" r="1.3" fill="#333333"/>
<circle cx="370.64" cy="369.80" r="1.3" fill="#333333"/>
<circle cx="372.84" cy="369.80" r="1.3" fill="#333333"/>
<circle cx="375.84" cy="369.80" r="1.3" fill="#333333"/>
<circle cx="379.14" cy="369.80" r="1.3" fill="#333333"/>
<circle cx="369.64" cy="371.30" r="1.3" fill="#333333"/>
<circle cx="372.64" cy="371.30" r="1.3" fill="#333333"/>
<circle cx="375.64" cy="371.30" r="1.3" fill="#333333"/>
<circle cx="378.64" cy="371.30" r="1.3" fill="#333333"/>
<circle cx="380.64" cy="371.30" r="1.3" fill="#333333"/>
<circle cx="371.64" cy="373.00" r="1.3" fill="#333333"/>
<circle cx="374.64" cy="373.00" r="1.3" fill="#333333"/>
<circle cx="377.64" cy="373.00" r="1.3" fill="#333333"/>
<polyline points="362.14,374.20 365.26,374.48 368.39,375.04 371.51,375.49 374.64,375.70 377.76,375.43 380.89,374.95 384.01,374.61 387.14,374.20" fill="none" stroke="#707070" stroke-width="1.6" stroke-linecap="round" stroke-linejoin="round"/>
<circle cx="362.14" cy="374.01" r="1.25" fill="#333333"/>
<circle cx="364.36" cy="374.68" r="1.25" fill="#333333"/>
<circle cx="367.36" cy="374.86" r="1.25" fill="#333333"/>
<circle cx="369.68" cy="375.07" r="1.25" fill="#333333"/>
<circle cx="372.31" cy="375.47" r="1.25" fill="#333333"/>
<circle cx="374.91" cy="375.87" r="1.25" fill="#333333"/>
<circle cx="377.33" cy="375.64" r="1.25" fill="#333333"/>
<circle cx="379.49" cy="374.99" r="1.25" fill="#333333"/>
<circle cx="381.96" cy="374.74" r="1.25" fill="#333333"/>
<circle cx="384.39" cy="374.37" r="1.25" fill="#333333"/>
<circle cx="387.14" cy="374.22" r="1.25" fill="#333333"/>
<polyline points="362.64,376.70 365.64,377.21 368.64,377.49 371.64,378.03 374.64,378.42 377.64,377.77 380.64,377.53 383.64,377.07 386.64,376.70" fill="none" stroke="#707070" stroke-width="1.6" stroke-linecap="round" stroke-linejoin="round"/>
<circle cx="362.64" cy="376.55" r="1.25" fill="#333333"/>
<circle cx="365.32" cy="376.96" r="1.25" fill="#333333"/>
<circle cx="367.48" cy="377.40" r="1.25" fill="#333333"/>
<circle cx="370.11" cy="377.76" r="1.25" fill="#333333"/>
<circle cx="372.18" cy="377.95" r="1.25" fill="#333333"/>
<circle cx="374.44" cy="378.46" r="1.25" fill="#333333"/>
<circle cx="377.34" cy="377.83" r="1.25" fill="#333333"/>
<circle cx="379.16" cy="377.60" r="1.25" fill="#333333"/>
<circle cx="381.75" cy="377.51" r="1.25" fill="#333333"/>
<circle cx="384.48" cy="377.12" r="1.25" fill="#333333"/>
<circle cx="386.64" cy="376.52" r="1.25" fill="#333333"/>
<polyline points="365.64,379.10 367.89,379.56 370.14,379.91 372.39,380.27 374.64,380.75 376.89,380.09 379.14,379.74 381.39,379.55 383.64,379.10" fill="none" stroke="#707070" stroke-width="1.6" stroke-linecap="round" stroke-linejoin="round"/>
<circle cx="365.64" cy="379.28" r="1.25" fill="#333333"/>
<circle cx="368.32" cy="379.47" r="1.25" fill="#333333"/>
<circle cx="370.84" cy="380.07" r="1.25" fill="#333333"/>
<circle cx="373.12" cy="380.28" r="1.25" fill="#333333"/>
<circle cx="375.78" cy="380.26" r="1.25" fill="#333333"/>
<circle cx="378.49" cy="379.83" r="1.25" fill="#333333"/>
<circle cx="380.91" cy="379.41" r="1.25" fill="#333333"/>
<circle cx="383.64" cy="379.17" r="1.25" fill="#333333"/>
<circle cx="405.98" cy="355.50" r="1.3" fill="#555555"/>
<circle cx="405.98" cy="361.60" r="1.3" fill="#555555"/>
<circle cx="398.88" cy="364.90" r="1.3" fill="#555555"/>
<circle cx="401.08" cy="364.90" r="1.3" fill="#555555"/>
<circle cx="414.88" cy="364.90" r="1.3" fill="#555555"/>
<circle cx="404.58" cy="366.70" r="1.3" fill="#555555"/>
<circle cx="407.28" cy="366.70" r="1.3" fill="#555555"/>
<circle cx="411.58" cy="366.70" r="1.3" fill="#555555"/>
<circle cx="415.58" cy="366.70" r="1.3" fill="#555555"/>
<circle cx="395.78" cy="368.70" r="1.3" fill="#555555"/>
<circle cx="399.58" cy="368.70" r="1.3" fill="#555555"/>
<circle cx="416.18" cy="368.70" r="1.3" fill="#555555"/>
<circle cx="400.58" cy="369.80" r="1.3" fill="#555555"/>
<circle cx="403.58" cy="369.80" r="1.3" fill="#555555"/>
<circle cx="406.58" cy="369.80" r="1.3" fill="#555555"/>
<circle cx="409.58" cy="369.80" r="1.3" fill="#555555"/>
<circle cx="412.58" cy="369.80" r="1.3" fill="#555555"/>
<circle cx="402.08" cy="371.30" r="1.3" fill="#555555"/>
<circle cx="405.08" cy="371.30" r="1.3" fill="#555555"/>
<circle cx="408.08" cy="371.30" r="1.3" fill="#555555"/>
<circle cx="411.08" cy="371.30" r="1.3" fill="#555555"/>
<circle cx="414.88" cy="373.80" r="1.3" fill="#555555"/>
<circle cx="395.78" cy="375.80" r="1.3" fill="#555555"/>
<circle cx="398.88" cy="375.80" r="1.3" fill="#555555"/>
<circle cx="401.58" cy="375.80" r="1.3" fill="#555555"/>
<circle cx="404.08" cy="375.80" r="1.3" fill="#555555"/>
<circle cx="406.58" cy="375.80" r="1.3" fill="#555555"/>
<circle cx="409.18" cy="375.80" r="1.3" fill="#555555"/>
<circle cx="411.88" cy="375.80" r="1.3" fill="#555555"/>
<circle cx="403.28" cy="377.30" r="1.3" fill="#555555"/>
<circle cx="405.98" cy="380.70" r="1.3" fill="#555555"/>
<circle cx="408.68" cy="380.70" r="1.3" fill="#555555"/>
<circle cx="438.52" cy="291.40" r="1.3" fill="#404040"/>
<circle cx="437.22" cy="331.10" r="1.3" fill="#404040"/>
<circle cx="439.32" cy="332.10" r="1.3" fill="#404040"/>
<circle cx="436.52" cy="335.30" r="1.3" fill="#404040"/>
<circle cx="439.32" cy="335.30" r="1.3" fill="#404040"/>
<circle cx="436.52" cy="336.60" r="1.3" fill="#404040"/>
<circle cx="438.52" cy="347.80" r="1.3" fill="#404040"/>
<circle cx="438.02" cy="351.70" r="1.3" fill="#404040"/>
<circle cx="435.52" cy="353.80" r="1.3" fill="#404040"/>
<circle cx="440.92" cy="353.80" r="1.3" fill="#404040"/>
<circle cx="435.12" cy="355.50" r="1.3" fill="#404040"/>
<circle cx="438.02" cy="355.50" r="1.3" fill="#404040"/>
<circle cx="426.02" cy="356.16" r="1.25" fill="#404040"/>
<circle cx="429.22" cy="356.40" r="1.25" fill="#404040"/>
<circle cx="430.67" cy="356.84" r="1.25" fill="#404040"/>
<circle cx="433.81" cy="356.99" r="1.25" fill="#404040"/>
<circle cx="437.84" cy="357.16" r="1.25" fill="#404040"/>
<circle cx="439.21" cy="356.94" r="1.25" fill="#404040"/>
<circle cx="441.90" cy="357.05" r="1.25" fill="#404040"/>
<circle cx="446.13" cy="356.70" r="1.25" fill="#404040"/>
<circle cx="448.15" cy="356.46" r="1.25" fill="#404040"/>
<circle cx="451.02" cy="356.56" r="1.25" fill="#404040"/>
<circle cx="426.52" cy="359.59" r="1.25" fill="#404040"/>
<circle cx="429.43" cy="359.57" r="1.25" fill="#404040"/>
<circle cx="431.33" cy="359.62" r="1.25" fill="#404040"/>
<circle cx="434.92" cy="360.05" r="1.25" fill="#404040"/>
<circle cx="436.52" cy="360.29" r="1.25" fill="#404040"/>
<circle cx="439.42" cy="360.11" r="1.25" fill="#404040"/>
<circle cx="441.88" cy="359.92" r="1.25" fill="#404040"/>
<circle cx="445.82" cy="359.75" r="1.25" fill="#404040"/>
<circle cx="447.23" cy="359.76" r="1.25" fill="#404040"/>
<circle cx="450.52" cy="359.51" r="1.25" fill="#404040"/>
<circle cx="430.52" cy="362.60" r="1.3" fill="#404040"/>
<circle cx="434.52" cy="362.60" r="1.3" fill="#404040"/>
<circle cx="438.52" cy="362.60" r="1.3" fill="#404040"/>
<circle cx="441.52" cy="362.60" r="1.3" fill="#404040"/>
<circle cx="426.02" cy="365.20" r="1.25" fill="#404040"/>
<circle cx="428.05" cy="365.34" r="1.25" fill="#404040"/>
<circle cx="430.71" cy="365.42" r="1.25" fill="#404040"/>
<circle cx="434.68" cy="365.27" r="1.25" fill="#404040"/>
<circle cx="437.09" cy="365.42" r="1.25" fill="#404040"/>
<circle cx="439.44" cy="365.41" r="1.25" fill="#404040"/>
<circle cx="442.42" cy="365.66" r="1.25" fill="#404040"/>
<circle cx="446.43" cy="365.43" r="1.25" fill="#404040"/>
<circle cx="447.46" cy="365.07" r="1.25" fill="#404040"/>
<circle cx="451.02" cy="365.20" r="1.25" fill="#404040"/>
<polyline points="425.72,369.60 428.92,369.54 432.12,369.82 435.32,369.76 438.52,370.04 441.72,369.68 444.92,369.84 448.12,369.63 451.32,369.60" fill="none" stroke="#6a6a6a" stroke-width="1.9" stroke-linecap="round" stroke-linejoin="round"/>
<polyline points="425.72,371.30 428.92,371.27 432.12,371.30 435.32,371.62 438.52,371.61 441.72,371.43 444.92,371.43 448.12,371.50 451.32,371.30" fill="none" stroke="#6a6a6a" stroke-width="1.9" stroke-linecap="round" stroke-linejoin="round"/>
<polyline points="426.02,372.90 429.14,372.92 432.27,373.12 435.39,373.09 438.52,373.20 441.64,373.28 444.77,373.16 447.89,372.91 451.02,372.90" fill="none" stroke="#6a6a6a" stroke-width="1.9" stroke-linecap="round" stroke-linejoin="round"/>
<polyline points="426.52,374.30 429.52,374.30 432.52,374.43 435.52,374.71 438.52,374.80 441.52,374.61 444.52,374.46 447.52,374.46 450.52,374.30" fill="none" stroke="#6a6a6a" stroke-width="1.9" stroke-linecap="round" stroke-linejoin="round"/>
<circle cx="428.02" cy="376.50" r="1.25" fill="#404040"/>
<circle cx="431.22" cy="377.23" r="1.25" fill="#404040"/>
<circle cx="432.72" cy="377.35" r="1.25" fill="#404040"/>
<circle cx="436.32" cy="378.41" r="1.25" fill="#404040"/>
<circle cx="438.93" cy="378.68" r="1.25" fill="#404040"/>
<circle cx="441.72" cy="378.13" r="1.25" fill="#404040"/>
<circle cx="444.40" cy="377.73" r="1.25" fill="#404040"/>
<circle cx="446.38" cy="376.81" r="1.25" fill="#404040"/>
<circle cx="449.02" cy="376.61" r="1.25" fill="#404040"/>
<circle cx="469.86" cy="335.80" r="1.3" fill="#404040"/>
<circle cx="469.96" cy="352.10" r="1.3" fill="#404040"/>
<circle cx="469.96" cy="355.90" r="1.3" fill="#404040"/>
<circle cx="461.16" cy="356.70" r="1.3" fill="#404040"/>
<circle cx="474.16" cy="356.70" r="1.3" fill="#404040"/>
<circle cx="478.36" cy="356.70" r="1.3" fill="#404040"/>
<circle cx="461.96" cy="358.19" r="1.25" fill="#404040"/>
<circle cx="465.02" cy="358.44" r="1.25" fill="#404040"/>
<circle cx="466.28" cy="358.87" r="1.25" fill="#404040"/>
<circle cx="469.02" cy="358.86" r="1.25" fill="#404040"/>
<circle cx="471.46" cy="359.13" r="1.25" fill="#404040"/>
<circle cx="473.26" cy="358.88" r="1.25" fill="#404040"/>
<circle cx="476.44" cy="358.50" r="1.25" fill="#404040"/>
<circle cx="478.96" cy="358.01" r="1.25" fill="#404040"/>
<circle cx="468.26" cy="362.60" r="1.3" fill="#404040"/>
<circle cx="471.26" cy="362.60" r="1.3" fill="#404040"/>
<circle cx="474.26" cy="362.60" r="1.3" fill="#404040"/>
<circle cx="460.46" cy="364.61" r="1.25" fill="#404040"/>
<circle cx="463.51" cy="364.93" r="1.25" fill="#404040"/>
<circle cx="465.15" cy="364.98" r="1.25" fill="#404040"/>
<circle cx="467.75" cy="365.21" r="1.25" fill="#404040"/>
<circle cx="469.69" cy="365.42" r="1.25" fill="#404040"/>
<circle cx="473.75" cy="365.03" r="1.25" fill="#404040"/>
<circle cx="475.48" cy="364.91" r="1.25" fill="#404040"/>
<circle cx="478.03" cy="364.46" r="1.25" fill="#404040"/>
<circle cx="480.46" cy="364.73" r="1.25" fill="#404040"/>
<circle cx="457.96" cy="366.86" r="1.25" fill="#404040"/>
<circle cx="459.90" cy="366.93" r="1.25" fill="#404040"/>
<circle cx="462.52" cy="367.45" r="1.25" fill="#404040"/>
<circle cx="464.64" cy="367.23" r="1.25" fill="#404040"/>
<circle cx="468.31" cy="367.51" r="1.25" fill="#404040"/>
<circle cx="469.62" cy="367.80" r="1.25" fill="#404040"/>
<circle cx="473.09" cy="367.64" r="1.25" fill="#404040"/>
<circle cx="475.81" cy="367.26" r="1.25" fill="#404040"/>
<circle cx="478.61" cy="367.39" r="1.25" fill="#404040"/>
<circle cx="479.66" cy="367.02" r="1.25" fill="#404040"/>
<circle cx="482.96" cy="367.00" r="1.25" fill="#404040"/>
<polyline points="457.46,369.60 460.71,369.68 463.96,369.68 467.21,369.71 470.46,369.87 473.71,369.72 476.96,369.78 480.21,369.78 483.46,369.60" fill="none" stroke="#6a6a6a" stroke-width="1.9" stroke-linecap="round" stroke-linejoin="round"/>
<polyline points="457.46,372.00 460.71,371.97 463.96,372.17 467.21,372.30 470.46,372.20 473.71,372.32 476.96,372.28 480.21,372.04 483.46,372.00" fill="none" stroke="#6a6a6a" stroke-width="1.9" stroke-linecap="round" stroke-linejoin="round"/>
<polyline points="457.96,373.50 461.08,373.58 464.21,373.80 467.33,373.81 470.46,373.87 473.58,373.93 476.71,373.78 479.83,373.55 482.96,373.50" fill="none" stroke="#6a6a6a" stroke-width="1.9" stroke-linecap="round" stroke-linejoin="round"/>
<polyline points="459.46,374.70 462.21,374.77 464.96,374.95 467.71,375.13 470.46,375.44 473.21,375.24 475.96,375.12 478.71,374.94 481.46,374.70" fill="none" stroke="#6a6a6a" stroke-width="1.9" stroke-linecap="round" stroke-linejoin="round"/>
<circle cx="463.66" cy="376.90" r="1.3" fill="#404040"/>
<circle cx="475.46" cy="376.90" r="1.3" fill="#404040"/>
<circle cx="466.56" cy="379.80" r="1.3" fill="#404040"/>
<circle cx="469.56" cy="379.80" r="1.3" fill="#404040"/>
<circle cx="472.46" cy="379.80" r="1.3" fill="#404040"/>
<circle cx="501.90" cy="353.80" r="1.3" fill="#444444"/>
<circle cx="500.50" cy="356.60" r="1.3" fill="#444444"/>
<circle cx="504.70" cy="359.00" r="1.3" fill="#444444"/>
<circle cx="508.80" cy="359.00" r="1.3" fill="#444444"/>
<circle cx="494.30" cy="360.40" r="1.3" fill="#444444"/>
<circle cx="497.90" cy="360.40" r="1.3" fill="#444444"/>
<circle cx="497.10" cy="361.80" r="1.3" fill="#444444"/>
<circle cx="499.80" cy="361.80" r="1.3" fill="#444444"/>
<circle cx="502.60" cy="361.80" r="1.3" fill="#444444"/>
<circle cx="505.30" cy="361.80" r="1.3" fill="#444444"/>
<circle cx="496.40" cy="363.90" r="1.3" fill="#444444"/>
<circle cx="507.40" cy="363.90" r="1.3" fill="#444444"/>
<circle cx="496.40" cy="365.30" r="1.3" fill="#444444"/>
<circle cx="499.20" cy="365.30" r="1.3" fill="#444444"/>
<circle cx="501.90" cy="365.30" r="1.3" fill="#444444"/>
<circle cx="504.70" cy="365.30" r="1.3" fill="#444444"/>
<circle cx="491.50" cy="366.70" r="1.3" fill="#444444"/>
<circle cx="511.60" cy="366.70" r="1.3" fill="#444444"/>
<circle cx="495.00" cy="368.00" r="1.3" fill="#444444"/>
<circle cx="499.20" cy="368.00" r="1.3" fill="#444444"/>
<circle cx="508.80" cy="368.00" r="1.3" fill="#444444"/>
<circle cx="494.90" cy="369.80" r="1.3" fill="#444444"/>
<circle cx="497.90" cy="369.80" r="1.3" fill="#444444"/>
<circle cx="500.90" cy="369.80" r="1.3" fill="#444444"/>
<circle cx="503.90" cy="369.80" r="1.3" fill="#444444"/>
<circle cx="506.90" cy="369.80" r="1.3" fill="#444444"/>
<circle cx="509.90" cy="369.80" r="1.3" fill="#444444"/>
<circle cx="496.40" cy="371.30" r="1.3" fill="#444444"/>
<circle cx="499.40" cy="371.30" r="1.3" fill="#444444"/>
<circle cx="502.40" cy="371.30" r="1.3" fill="#444444"/>
<circle cx="505.40" cy="371.30" r="1.3" fill="#444444"/>
<circle cx="508.40" cy="371.30" r="1.3" fill="#444444"/>
<circle cx="489.90" cy="373.27" r="1.25" fill="#444444"/>
<circle cx="491.81" cy="373.34" r="1.25" fill="#444444"/>
<circle cx="496.35" cy="374.09" r="1.25" fill="#444444"/>
<circle cx="497.75" cy="374.00" r="1.25" fill="#444444"/>
<circle cx="501.27" cy="374.40" r="1.25" fill="#444444"/>
<circle cx="503.85" cy="374.21" r="1.25" fill="#444444"/>
<circle cx="506.44" cy="374.12" r="1.25" fill="#444444"/>
<circle cx="508.41" cy="373.70" r="1.25" fill="#444444"/>
<circle cx="513.04" cy="373.46" r="1.25" fill="#444444"/>
<circle cx="514.90" cy="373.32" r="1.25" fill="#444444"/>
<circle cx="490.90" cy="375.27" r="1.25" fill="#444444"/>
<circle cx="494.01" cy="375.80" r="1.25" fill="#444444"/>
<circle cx="496.70" cy="375.72" r="1.25" fill="#444444"/>
<circle cx="498.82" cy="376.12" r="1.25" fill="#444444"/>
<circle cx="501.44" cy="376.46" r="1.25" fill="#444444"/>
<circle cx="503.75" cy="376.74" r="1.25" fill="#444444"/>
<circle cx="506.45" cy="376.05" r="1.25" fill="#444444"/>
<circle cx="508.83" cy="375.83" r="1.25" fill="#444444"/>
<circle cx="512.15" cy="375.32" r="1.25" fill="#444444"/>
<circle cx="513.90" cy="375.10" r="1.25" fill="#444444"/>
<circle cx="490.90" cy="377.17" r="1.25" fill="#444444"/>
<circle cx="492.78" cy="377.44" r="1.25" fill="#444444"/>
<circle cx="496.83" cy="378.03" r="1.25" fill="#444444"/>
<circle cx="498.15" cy="378.22" r="1.25" fill="#444444"/>
<circle cx="501.18" cy="378.53" r="1.25" fill="#444444"/>
<circle cx="503.01" cy="378.62" r="1.25" fill="#444444"/>
<circle cx="505.86" cy="378.31" r="1.25" fill="#444444"/>
<circle cx="508.41" cy="377.83" r="1.25" fill="#444444"/>
<circle cx="510.61" cy="377.64" r="1.25" fill="#444444"/>
<circle cx="513.90" cy="377.27" r="1.25" fill="#444444"/>
<circle cx="499.80" cy="383.20" r="1.3" fill="#444444"/>
</g>
<line x1="54.0" y1="160.5" x2="80.4" y2="160.5" stroke="#000" stroke-width="1.4"/>
<line x1="67.2" y1="159.8" x2="67.2" y2="161.2" stroke="#111" stroke-width="1.1"/>
<line x1="61.0" y1="159.8" x2="73.4" y2="159.8" stroke="#111" stroke-width="1.2"/>
<line x1="61.0" y1="161.2" x2="73.4" y2="161.2" stroke="#111" stroke-width="1.2"/>
<line x1="85.75" y1="151.2" x2="112.55000000000001" y2="151.2" stroke="#000" stroke-width="1.4"/>
<line x1="99.15" y1="149.8" x2="99.15" y2="152.6" stroke="#111" stroke-width="1.1"/>
<line x1="92.95" y1="149.8" x2="105.35000000000001" y2="149.8" stroke="#111" stroke-width="1.2"/>
<line x1="92.95" y1="152.6" x2="105.35000000000001" y2="152.6" stroke="#111" stroke-width="1.2"/>
<line x1="117.69999999999999" y1="152.0" x2="144.5" y2="152.0" stroke="#000" stroke-width="1.4"/>
<line x1="131.1" y1="150.0" x2="131.1" y2="154.0" stroke="#111" stroke-width="1.1"/>
<line x1="124.89999999999999" y1="150.0" x2="137.29999999999998" y2="150.0" stroke="#111" stroke-width="1.2"/>
<line x1="124.89999999999999" y1="154.0" x2="137.29999999999998" y2="154.0" stroke="#111" stroke-width="1.2"/>
<line x1="149.85000000000002" y1="124.3" x2="176.25" y2="124.3" stroke="#000" stroke-width="1.4"/>
<line x1="163.05" y1="123.5" x2="163.05" y2="125.1" stroke="#111" stroke-width="1.1"/>
<line x1="156.85000000000002" y1="123.5" x2="169.25" y2="123.5" stroke="#111" stroke-width="1.2"/>
<line x1="156.85000000000002" y1="125.1" x2="169.25" y2="125.1" stroke="#111" stroke-width="1.2"/>
<line x1="182.0" y1="124.6" x2="208.0" y2="124.6" stroke="#000" stroke-width="1.4"/>
<line x1="195.0" y1="123.8" x2="195.0" y2="125.4" stroke="#111" stroke-width="1.1"/>
<line x1="188.8" y1="123.8" x2="201.2" y2="123.8" stroke="#111" stroke-width="1.2"/>
<line x1="188.8" y1="125.4" x2="201.2" y2="125.4" stroke="#111" stroke-width="1.2"/>
<line x1="213.95" y1="153.6" x2="239.95" y2="153.6" stroke="#000" stroke-width="1.4"/>
<line x1="226.95" y1="152.4" x2="226.95" y2="154.8" stroke="#111" stroke-width="1.1"/>
<line x1="220.75" y1="152.4" x2="233.14999999999998" y2="152.4" stroke="#111" stroke-width="1.2"/>
<line x1="220.75" y1="154.8" x2="233.14999999999998" y2="154.8" stroke="#111" stroke-width="1.2"/>
<line x1="329.4" y1="164.1" x2="356.0" y2="164.1" stroke="#000" stroke-width="1.4"/>
<line x1="342.7" y1="163.5" x2="342.7" y2="164.7" stroke="#111" stroke-width="1.1"/>
<line x1="336.5" y1="163.5" x2="348.9" y2="163.5" stroke="#111" stroke-width="1.2"/>
<line x1="336.5" y1="164.7" x2="348.9" y2="164.7" stroke="#111" stroke-width="1.2"/>
<line x1="361.34" y1="153.0" x2="387.94" y2="153.0" stroke="#000" stroke-width="1.4"/>
<line x1="374.64" y1="151.8" x2="374.64" y2="154.2" stroke="#111" stroke-width="1.1"/>
<line x1="368.44" y1="151.8" x2="380.84" y2="151.8" stroke="#111" stroke-width="1.2"/>
<line x1="368.44" y1="154.2" x2="380.84" y2="154.2" stroke="#111" stroke-width="1.2"/>
<line x1="393.28" y1="154.1" x2="419.88" y2="154.1" stroke="#000" stroke-width="1.4"/>
<line x1="406.58" y1="152.5" x2="406.58" y2="155.7" stroke="#111" stroke-width="1.1"/>
<line x1="400.38" y1="152.5" x2="412.78" y2="152.5" stroke="#111" stroke-width="1.2"/>
<line x1="400.38" y1="155.7" x2="412.78" y2="155.7" stroke="#111" stroke-width="1.2"/>
<line x1="425.52" y1="132.1" x2="451.52" y2="132.1" stroke="#000" stroke-width="1.4"/>
<line x1="438.52" y1="131.3" x2="438.52" y2="132.9" stroke="#111" stroke-width="1.1"/>
<line x1="432.32" y1="131.3" x2="444.71999999999997" y2="131.3" stroke="#111" stroke-width="1.2"/>
<line x1="432.32" y1="132.9" x2="444.71999999999997" y2="132.9" stroke="#111" stroke-width="1.2"/>
<line x1="457.26" y1="131.8" x2="483.65999999999997" y2="131.8" stroke="#000" stroke-width="1.4"/>
<line x1="470.46" y1="130.9" x2="470.46" y2="132.7" stroke="#111" stroke-width="1.1"/>
<line x1="464.26" y1="130.9" x2="476.65999999999997" y2="130.9" stroke="#111" stroke-width="1.2"/>
<line x1="464.26" y1="132.7" x2="476.65999999999997" y2="132.7" stroke="#111" stroke-width="1.2"/>
<line x1="489.09999999999997" y1="159.6" x2="515.6999999999999" y2="159.6" stroke="#000" stroke-width="1.4"/>
<line x1="502.4" y1="158.6" x2="502.4" y2="160.6" stroke="#111" stroke-width="1.1"/>
<line x1="496.2" y1="158.6" x2="508.59999999999997" y2="158.6" stroke="#111" stroke-width="1.2"/>
<line x1="496.2" y1="160.6" x2="508.59999999999997" y2="160.6" stroke="#111" stroke-width="1.2"/>
<line x1="54.400000000000006" y1="351.8" x2="80.4" y2="351.8" stroke="#000" stroke-width="1.4"/>
<line x1="67.4" y1="349.7" x2="67.4" y2="354.2" stroke="#111" stroke-width="1.1"/>
<line x1="61.2" y1="349.7" x2="73.60000000000001" y2="349.7" stroke="#111" stroke-width="1.2"/>
<line x1="61.2" y1="354.2" x2="73.60000000000001" y2="354.2" stroke="#111" stroke-width="1.2"/>
<line x1="85.9" y1="350.1" x2="112.5" y2="350.1" stroke="#000" stroke-width="1.4"/>
<line x1="99.2" y1="349.0" x2="99.2" y2="351.2" stroke="#111" stroke-width="1.1"/>
<line x1="93.0" y1="349.0" x2="105.4" y2="349.0" stroke="#111" stroke-width="1.2"/>
<line x1="93.0" y1="351.2" x2="105.4" y2="351.2" stroke="#111" stroke-width="1.2"/>
<line x1="118.0" y1="345.6" x2="144.0" y2="345.6" stroke="#000" stroke-width="1.4"/>
<line x1="131.0" y1="343.1" x2="131.0" y2="347.8" stroke="#111" stroke-width="1.1"/>
<line x1="124.8" y1="343.1" x2="137.2" y2="343.1" stroke="#111" stroke-width="1.2"/>
<line x1="124.8" y1="347.8" x2="137.2" y2="347.8" stroke="#111" stroke-width="1.2"/>
<line x1="149.60000000000002" y1="349.3" x2="176.0" y2="349.3" stroke="#000" stroke-width="1.4"/>
<line x1="162.8" y1="348.6" x2="162.8" y2="350.0" stroke="#111" stroke-width="1.1"/>
<line x1="156.60000000000002" y1="348.6" x2="169.0" y2="348.6" stroke="#111" stroke-width="1.2"/>
<line x1="156.60000000000002" y1="350.0" x2="169.0" y2="350.0" stroke="#111" stroke-width="1.2"/>
<line x1="181.40000000000003" y1="349.3" x2="207.8" y2="349.3" stroke="#000" stroke-width="1.4"/>
<line x1="194.60000000000002" y1="348.6" x2="194.60000000000002" y2="350.0" stroke="#111" stroke-width="1.1"/>
<line x1="188.40000000000003" y1="348.6" x2="200.8" y2="348.6" stroke="#111" stroke-width="1.2"/>
<line x1="188.40000000000003" y1="350.0" x2="200.8" y2="350.0" stroke="#111" stroke-width="1.2"/>
<line x1="213.1" y1="350.3" x2="239.70000000000002" y2="350.3" stroke="#000" stroke-width="1.4"/>
<line x1="226.4" y1="348.9" x2="226.4" y2="351.7" stroke="#111" stroke-width="1.1"/>
<line x1="220.20000000000002" y1="348.9" x2="232.6" y2="348.9" stroke="#111" stroke-width="1.2"/>
<line x1="220.20000000000002" y1="351.7" x2="232.6" y2="351.7" stroke="#111" stroke-width="1.2"/>
<line x1="329.7" y1="375.1" x2="355.7" y2="375.1" stroke="#000" stroke-width="1.4"/>
<line x1="342.7" y1="374.5" x2="342.7" y2="375.7" stroke="#111" stroke-width="1.1"/>
<line x1="336.5" y1="374.5" x2="348.9" y2="374.5" stroke="#111" stroke-width="1.2"/>
<line x1="336.5" y1="375.7" x2="348.9" y2="375.7" stroke="#111" stroke-width="1.2"/>
<line x1="361.34" y1="371.6" x2="387.94" y2="371.6" stroke="#777" stroke-width="1.4"/>
<line x1="393.47999999999996" y1="370.6" x2="419.68" y2="370.6" stroke="#000" stroke-width="1.4"/>
<line x1="406.58" y1="369.8" x2="406.58" y2="371.4" stroke="#111" stroke-width="1.1"/>
<line x1="400.38" y1="369.8" x2="412.78" y2="369.8" stroke="#111" stroke-width="1.2"/>
<line x1="400.38" y1="371.4" x2="412.78" y2="371.4" stroke="#111" stroke-width="1.2"/>
<line x1="425.21999999999997" y1="368.1" x2="451.82" y2="368.1" stroke="#000" stroke-width="1.4"/>
<line x1="456.85999999999996" y1="370.6" x2="484.06" y2="370.6" stroke="#000" stroke-width="1.4"/>
<line x1="489.29999999999995" y1="370.8" x2="515.5" y2="370.8" stroke="#000" stroke-width="1.4"/>
</svg></body></html>
